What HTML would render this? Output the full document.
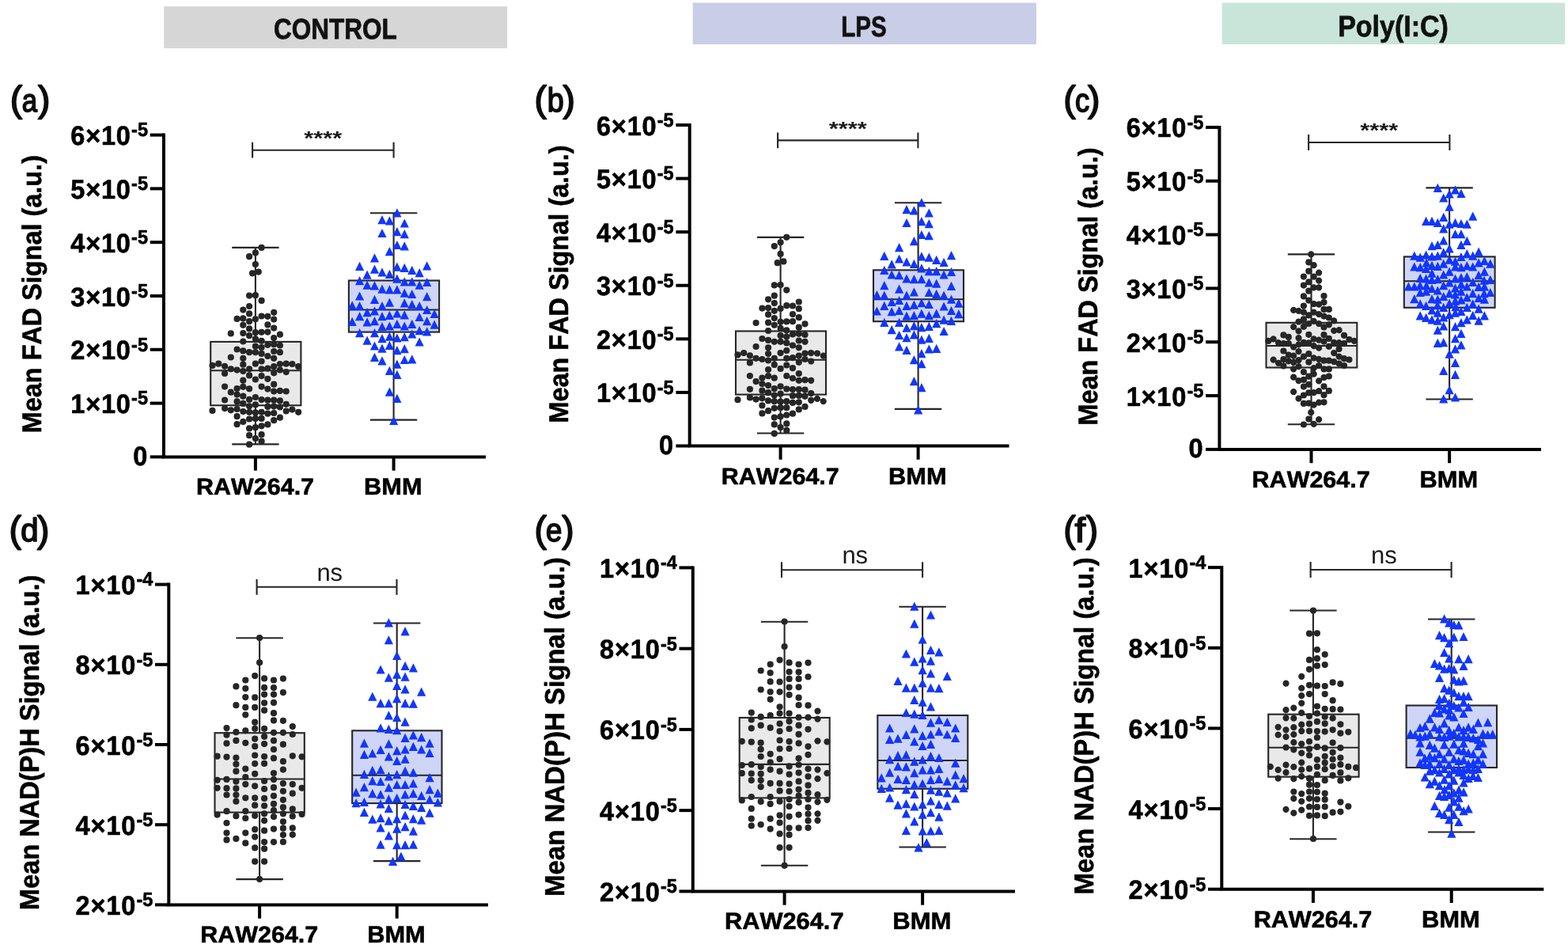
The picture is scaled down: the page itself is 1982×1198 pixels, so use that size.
<!DOCTYPE html>
<html lang="en">
<head>
<meta charset="utf-8">
<title>Mean FAD and NAD(P)H signal: RAW264.7 vs BMM</title>
<style>
html,body{margin:0;padding:0;background:#fff;}
body{width:1982px;height:1198px;overflow:hidden;}
svg{display:block;font-family:"Liberation Sans",Arial,Helvetica,sans-serif;font-kerning:none;font-variant-ligatures:none;text-rendering:geometricPrecision;}
.b{font-weight:bold;fill:#000;stroke:#000;stroke-width:0.6px;stroke-linejoin:round;}
.pl{fill:#0d0d0d;stroke:#0d0d0d;stroke-linejoin:round;}
.bx{fill:#000;stroke:#000;stroke-linejoin:round;}
.hd{font-weight:bold;fill:#111;stroke:#111;stroke-linejoin:round;}
.sg{fill:#1a1a1a;}
.st{font-weight:bold;}
</style>
</head>
<body>
<svg width="1982" height="1198" viewBox="0 0 1982 1198">
<rect width="1982" height="1198" fill="#fff"/>
<rect x="207.2" y="8.1" width="434.0" height="52.9" fill="#d6d6d6"/>
<text class="hd" transform="matrix(0.3151 0 0 0.3636 345.99 48.90)" font-size="100" font-weight="bold" stroke-width="2.07">CONTROL</text>
<rect x="875.7" y="3.5" width="434.2" height="52.5" fill="#c9cde6"/>
<text class="hd" transform="matrix(0.2954 0 0 0.3636 1063.23 46.40)" font-size="100" font-weight="bold" stroke-width="2.14">LPS</text>
<rect x="1544.6" y="3.5" width="433.6" height="52.5" fill="#c9e5d9"/>
<text class="hd" transform="matrix(0.3398 0 0 0.3759 1691.14 46.40)" font-size="100" font-weight="bold" stroke-width="1.96">Poly(I:C)</text>
<g stroke="#262626" stroke-width="2.1" fill="none">
<rect x="266.20" y="431.90" width="114.20" height="80.40" fill="#e9e9e9"/>
<path d="M266.20 468.30H380.40M322.9 431.90V312.90M322.9 512.30V561.40M293.20 312.90H352.60M293.20 561.40H352.60"/>
</g>
<path d="M326.5 312.9a4.1 4.1 0 1 0 8.2 0a4.1 4.1 0 1 0-8.2 0M318.8 319.4a4.1 4.1 0 1 0 8.2 0a4.1 4.1 0 1 0-8.2 0M311.0 324.2a4.1 4.1 0 1 0 8.2 0a4.1 4.1 0 1 0-8.2 0M318.8 334.1a4.1 4.1 0 1 0 8.2 0a4.1 4.1 0 1 0-8.2 0M322.7 343.6a4.1 4.1 0 1 0 8.2 0a4.1 4.1 0 1 0-8.2 0M314.9 345.3a4.1 4.1 0 1 0 8.2 0a4.1 4.1 0 1 0-8.2 0M311.0 373.6a4.1 4.1 0 1 0 8.2 0a4.1 4.1 0 1 0-8.2 0M318.8 373.2a4.1 4.1 0 1 0 8.2 0a4.1 4.1 0 1 0-8.2 0M326.5 379.9a4.1 4.1 0 1 0 8.2 0a4.1 4.1 0 1 0-8.2 0M311.0 387.0a4.1 4.1 0 1 0 8.2 0a4.1 4.1 0 1 0-8.2 0M303.2 391.6a4.1 4.1 0 1 0 8.2 0a4.1 4.1 0 1 0-8.2 0M342.1 394.8a4.1 4.1 0 1 0 8.2 0a4.1 4.1 0 1 0-8.2 0M311.0 396.4a4.1 4.1 0 1 0 8.2 0a4.1 4.1 0 1 0-8.2 0M326.5 399.5a4.1 4.1 0 1 0 8.2 0a4.1 4.1 0 1 0-8.2 0M334.3 399.8a4.1 4.1 0 1 0 8.2 0a4.1 4.1 0 1 0-8.2 0M295.5 402.9a4.1 4.1 0 1 0 8.2 0a4.1 4.1 0 1 0-8.2 0M303.2 402.4a4.1 4.1 0 1 0 8.2 0a4.1 4.1 0 1 0-8.2 0M318.8 403.3a4.1 4.1 0 1 0 8.2 0a4.1 4.1 0 1 0-8.2 0M342.1 403.5a4.1 4.1 0 1 0 8.2 0a4.1 4.1 0 1 0-8.2 0M311.0 406.2a4.1 4.1 0 1 0 8.2 0a4.1 4.1 0 1 0-8.2 0M303.2 410.8a4.1 4.1 0 1 0 8.2 0a4.1 4.1 0 1 0-8.2 0M334.3 410.4a4.1 4.1 0 1 0 8.2 0a4.1 4.1 0 1 0-8.2 0M311.0 415.4a4.1 4.1 0 1 0 8.2 0a4.1 4.1 0 1 0-8.2 0M342.1 414.6a4.1 4.1 0 1 0 8.2 0a4.1 4.1 0 1 0-8.2 0M287.7 421.4a4.1 4.1 0 1 0 8.2 0a4.1 4.1 0 1 0-8.2 0M303.2 421.1a4.1 4.1 0 1 0 8.2 0a4.1 4.1 0 1 0-8.2 0M318.8 420.2a4.1 4.1 0 1 0 8.2 0a4.1 4.1 0 1 0-8.2 0M326.5 419.8a4.1 4.1 0 1 0 8.2 0a4.1 4.1 0 1 0-8.2 0M334.3 419.6a4.1 4.1 0 1 0 8.2 0a4.1 4.1 0 1 0-8.2 0M349.8 422.7a4.1 4.1 0 1 0 8.2 0a4.1 4.1 0 1 0-8.2 0M311.0 424.2a4.1 4.1 0 1 0 8.2 0a4.1 4.1 0 1 0-8.2 0M342.1 427.1a4.1 4.1 0 1 0 8.2 0a4.1 4.1 0 1 0-8.2 0M318.8 428.3a4.1 4.1 0 1 0 8.2 0a4.1 4.1 0 1 0-8.2 0M326.5 430.8a4.1 4.1 0 1 0 8.2 0a4.1 4.1 0 1 0-8.2 0M303.2 431.5a4.1 4.1 0 1 0 8.2 0a4.1 4.1 0 1 0-8.2 0M334.3 435.8a4.1 4.1 0 1 0 8.2 0a4.1 4.1 0 1 0-8.2 0M342.1 435.2a4.1 4.1 0 1 0 8.2 0a4.1 4.1 0 1 0-8.2 0M349.8 436.5a4.1 4.1 0 1 0 8.2 0a4.1 4.1 0 1 0-8.2 0M318.8 437.5a4.1 4.1 0 1 0 8.2 0a4.1 4.1 0 1 0-8.2 0M326.5 439.0a4.1 4.1 0 1 0 8.2 0a4.1 4.1 0 1 0-8.2 0M295.5 441.5a4.1 4.1 0 1 0 8.2 0a4.1 4.1 0 1 0-8.2 0M303.2 443.4a4.1 4.1 0 1 0 8.2 0a4.1 4.1 0 1 0-8.2 0M311.0 445.2a4.1 4.1 0 1 0 8.2 0a4.1 4.1 0 1 0-8.2 0M318.8 445.2a4.1 4.1 0 1 0 8.2 0a4.1 4.1 0 1 0-8.2 0M342.1 444.0a4.1 4.1 0 1 0 8.2 0a4.1 4.1 0 1 0-8.2 0M349.8 445.2a4.1 4.1 0 1 0 8.2 0a4.1 4.1 0 1 0-8.2 0M326.5 446.9a4.1 4.1 0 1 0 8.2 0a4.1 4.1 0 1 0-8.2 0M287.7 451.5a4.1 4.1 0 1 0 8.2 0a4.1 4.1 0 1 0-8.2 0M334.3 450.0a4.1 4.1 0 1 0 8.2 0a4.1 4.1 0 1 0-8.2 0M303.2 452.8a4.1 4.1 0 1 0 8.2 0a4.1 4.1 0 1 0-8.2 0M342.1 452.8a4.1 4.1 0 1 0 8.2 0a4.1 4.1 0 1 0-8.2 0M326.5 456.5a4.1 4.1 0 1 0 8.2 0a4.1 4.1 0 1 0-8.2 0M318.8 459.7a4.1 4.1 0 1 0 8.2 0a4.1 4.1 0 1 0-8.2 0M303.2 460.7a4.1 4.1 0 1 0 8.2 0a4.1 4.1 0 1 0-8.2 0M264.4 461.9a4.1 4.1 0 1 0 8.2 0a4.1 4.1 0 1 0-8.2 0M272.2 459.7a4.1 4.1 0 1 0 8.2 0a4.1 4.1 0 1 0-8.2 0M280.0 462.8a4.1 4.1 0 1 0 8.2 0a4.1 4.1 0 1 0-8.2 0M287.7 466.3a4.1 4.1 0 1 0 8.2 0a4.1 4.1 0 1 0-8.2 0M295.5 467.6a4.1 4.1 0 1 0 8.2 0a4.1 4.1 0 1 0-8.2 0M303.2 469.1a4.1 4.1 0 1 0 8.2 0a4.1 4.1 0 1 0-8.2 0M311.0 466.3a4.1 4.1 0 1 0 8.2 0a4.1 4.1 0 1 0-8.2 0M326.5 466.3a4.1 4.1 0 1 0 8.2 0a4.1 4.1 0 1 0-8.2 0M334.3 465.7a4.1 4.1 0 1 0 8.2 0a4.1 4.1 0 1 0-8.2 0M342.1 463.2a4.1 4.1 0 1 0 8.2 0a4.1 4.1 0 1 0-8.2 0M349.8 460.0a4.1 4.1 0 1 0 8.2 0a4.1 4.1 0 1 0-8.2 0M357.6 459.7a4.1 4.1 0 1 0 8.2 0a4.1 4.1 0 1 0-8.2 0M365.3 460.0a4.1 4.1 0 1 0 8.2 0a4.1 4.1 0 1 0-8.2 0M373.1 463.2a4.1 4.1 0 1 0 8.2 0a4.1 4.1 0 1 0-8.2 0M280.0 471.9a4.1 4.1 0 1 0 8.2 0a4.1 4.1 0 1 0-8.2 0M342.1 471.3a4.1 4.1 0 1 0 8.2 0a4.1 4.1 0 1 0-8.2 0M349.8 467.6a4.1 4.1 0 1 0 8.2 0a4.1 4.1 0 1 0-8.2 0M357.6 470.1a4.1 4.1 0 1 0 8.2 0a4.1 4.1 0 1 0-8.2 0M311.0 474.4a4.1 4.1 0 1 0 8.2 0a4.1 4.1 0 1 0-8.2 0M326.5 475.1a4.1 4.1 0 1 0 8.2 0a4.1 4.1 0 1 0-8.2 0M318.8 479.5a4.1 4.1 0 1 0 8.2 0a4.1 4.1 0 1 0-8.2 0M334.3 478.8a4.1 4.1 0 1 0 8.2 0a4.1 4.1 0 1 0-8.2 0M303.2 480.7a4.1 4.1 0 1 0 8.2 0a4.1 4.1 0 1 0-8.2 0M342.1 485.7a4.1 4.1 0 1 0 8.2 0a4.1 4.1 0 1 0-8.2 0M280.0 488.6a4.1 4.1 0 1 0 8.2 0a4.1 4.1 0 1 0-8.2 0M303.2 488.8a4.1 4.1 0 1 0 8.2 0a4.1 4.1 0 1 0-8.2 0M295.5 491.1a4.1 4.1 0 1 0 8.2 0a4.1 4.1 0 1 0-8.2 0M311.0 491.3a4.1 4.1 0 1 0 8.2 0a4.1 4.1 0 1 0-8.2 0M326.5 488.6a4.1 4.1 0 1 0 8.2 0a4.1 4.1 0 1 0-8.2 0M334.3 491.6a4.1 4.1 0 1 0 8.2 0a4.1 4.1 0 1 0-8.2 0M342.1 494.5a4.1 4.1 0 1 0 8.2 0a4.1 4.1 0 1 0-8.2 0M349.8 493.9a4.1 4.1 0 1 0 8.2 0a4.1 4.1 0 1 0-8.2 0M357.6 494.5a4.1 4.1 0 1 0 8.2 0a4.1 4.1 0 1 0-8.2 0M287.7 495.7a4.1 4.1 0 1 0 8.2 0a4.1 4.1 0 1 0-8.2 0M295.5 498.6a4.1 4.1 0 1 0 8.2 0a4.1 4.1 0 1 0-8.2 0M303.2 500.7a4.1 4.1 0 1 0 8.2 0a4.1 4.1 0 1 0-8.2 0M318.8 502.0a4.1 4.1 0 1 0 8.2 0a4.1 4.1 0 1 0-8.2 0M311.0 504.9a4.1 4.1 0 1 0 8.2 0a4.1 4.1 0 1 0-8.2 0M326.5 505.1a4.1 4.1 0 1 0 8.2 0a4.1 4.1 0 1 0-8.2 0M334.3 505.7a4.1 4.1 0 1 0 8.2 0a4.1 4.1 0 1 0-8.2 0M342.1 505.7a4.1 4.1 0 1 0 8.2 0a4.1 4.1 0 1 0-8.2 0M349.8 506.4a4.1 4.1 0 1 0 8.2 0a4.1 4.1 0 1 0-8.2 0M280.0 505.5a4.1 4.1 0 1 0 8.2 0a4.1 4.1 0 1 0-8.2 0M295.5 507.4a4.1 4.1 0 1 0 8.2 0a4.1 4.1 0 1 0-8.2 0M303.2 509.9a4.1 4.1 0 1 0 8.2 0a4.1 4.1 0 1 0-8.2 0M318.8 511.4a4.1 4.1 0 1 0 8.2 0a4.1 4.1 0 1 0-8.2 0M357.6 510.8a4.1 4.1 0 1 0 8.2 0a4.1 4.1 0 1 0-8.2 0M311.0 513.3a4.1 4.1 0 1 0 8.2 0a4.1 4.1 0 1 0-8.2 0M334.3 513.9a4.1 4.1 0 1 0 8.2 0a4.1 4.1 0 1 0-8.2 0M342.1 513.6a4.1 4.1 0 1 0 8.2 0a4.1 4.1 0 1 0-8.2 0M349.8 514.5a4.1 4.1 0 1 0 8.2 0a4.1 4.1 0 1 0-8.2 0M264.4 518.9a4.1 4.1 0 1 0 8.2 0a4.1 4.1 0 1 0-8.2 0M280.0 516.1a4.1 4.1 0 1 0 8.2 0a4.1 4.1 0 1 0-8.2 0M287.7 518.3a4.1 4.1 0 1 0 8.2 0a4.1 4.1 0 1 0-8.2 0M295.5 517.0a4.1 4.1 0 1 0 8.2 0a4.1 4.1 0 1 0-8.2 0M303.2 520.1a4.1 4.1 0 1 0 8.2 0a4.1 4.1 0 1 0-8.2 0M311.0 520.8a4.1 4.1 0 1 0 8.2 0a4.1 4.1 0 1 0-8.2 0M318.8 521.4a4.1 4.1 0 1 0 8.2 0a4.1 4.1 0 1 0-8.2 0M326.5 520.8a4.1 4.1 0 1 0 8.2 0a4.1 4.1 0 1 0-8.2 0M334.3 522.7a4.1 4.1 0 1 0 8.2 0a4.1 4.1 0 1 0-8.2 0M342.1 522.0a4.1 4.1 0 1 0 8.2 0a4.1 4.1 0 1 0-8.2 0M357.6 519.5a4.1 4.1 0 1 0 8.2 0a4.1 4.1 0 1 0-8.2 0M365.3 517.6a4.1 4.1 0 1 0 8.2 0a4.1 4.1 0 1 0-8.2 0M373.1 520.8a4.1 4.1 0 1 0 8.2 0a4.1 4.1 0 1 0-8.2 0M295.5 526.2a4.1 4.1 0 1 0 8.2 0a4.1 4.1 0 1 0-8.2 0M311.0 529.5a4.1 4.1 0 1 0 8.2 0a4.1 4.1 0 1 0-8.2 0M318.8 528.9a4.1 4.1 0 1 0 8.2 0a4.1 4.1 0 1 0-8.2 0M326.5 528.9a4.1 4.1 0 1 0 8.2 0a4.1 4.1 0 1 0-8.2 0M349.8 527.7a4.1 4.1 0 1 0 8.2 0a4.1 4.1 0 1 0-8.2 0M342.1 531.2a4.1 4.1 0 1 0 8.2 0a4.1 4.1 0 1 0-8.2 0M303.2 532.9a4.1 4.1 0 1 0 8.2 0a4.1 4.1 0 1 0-8.2 0M295.5 536.2a4.1 4.1 0 1 0 8.2 0a4.1 4.1 0 1 0-8.2 0M334.3 536.4a4.1 4.1 0 1 0 8.2 0a4.1 4.1 0 1 0-8.2 0M326.5 538.3a4.1 4.1 0 1 0 8.2 0a4.1 4.1 0 1 0-8.2 0M318.8 540.2a4.1 4.1 0 1 0 8.2 0a4.1 4.1 0 1 0-8.2 0M311.0 541.4a4.1 4.1 0 1 0 8.2 0a4.1 4.1 0 1 0-8.2 0M311.0 550.2a4.1 4.1 0 1 0 8.2 0a4.1 4.1 0 1 0-8.2 0M326.5 549.2a4.1 4.1 0 1 0 8.2 0a4.1 4.1 0 1 0-8.2 0M318.8 554.0a4.1 4.1 0 1 0 8.2 0a4.1 4.1 0 1 0-8.2 0M326.5 557.7a4.1 4.1 0 1 0 8.2 0a4.1 4.1 0 1 0-8.2 0M311.0 561.7a4.1 4.1 0 1 0 8.2 0a4.1 4.1 0 1 0-8.2 0" fill="#262626"/>
<g stroke="#262626" stroke-width="2.1" fill="none">
<rect x="440.90" y="354.50" width="114.20" height="65.10" fill="#cfd5f7"/>
<path d="M440.90 391.50H555.10M497.6 354.50V269.20M497.6 419.60V530.60M467.90 269.20H527.30M467.90 530.60H527.30"/>
</g>
<path d="M501.9 263.2l5.6 11.2h-11.2zM483.0 272.0l5.6 11.2h-11.2zM492.4 273.2l5.6 11.2h-11.2zM511.3 276.4l5.6 11.2h-11.2zM483.0 288.9l5.6 11.2h-11.2zM501.9 287.0l5.6 11.2h-11.2zM511.3 290.1l5.6 11.2h-11.2zM501.9 303.9l5.6 11.2h-11.2zM511.3 305.2l5.6 11.2h-11.2zM492.4 312.1l5.6 11.2h-11.2zM473.5 320.2l5.6 11.2h-11.2zM454.6 330.8l5.6 11.2h-11.2zM473.5 334.6l5.6 11.2h-11.2zM501.9 331.5l5.6 11.2h-11.2zM511.3 332.7l5.6 11.2h-11.2zM520.8 335.8l5.6 11.2h-11.2zM539.7 330.2l5.6 11.2h-11.2zM530.2 339.0l5.6 11.2h-11.2zM483.0 338.3l5.6 11.2h-11.2zM492.4 340.8l5.6 11.2h-11.2zM464.1 341.5l5.6 11.2h-11.2zM501.9 346.5l5.6 11.2h-11.2zM454.6 349.0l5.6 11.2h-11.2zM511.3 350.2l5.6 11.2h-11.2zM520.8 350.2l5.6 11.2h-11.2zM539.7 350.9l5.6 11.2h-11.2zM530.2 354.6l5.6 11.2h-11.2zM464.1 354.6l5.6 11.2h-11.2zM473.5 355.2l5.6 11.2h-11.2zM483.0 359.6l5.6 11.2h-11.2zM492.4 360.3l5.6 11.2h-11.2zM501.9 360.3l5.6 11.2h-11.2zM511.3 364.6l5.6 11.2h-11.2zM520.8 365.9l5.6 11.2h-11.2zM454.6 368.4l5.6 11.2h-11.2zM539.7 369.0l5.6 11.2h-11.2zM473.5 372.8l5.6 11.2h-11.2zM492.4 376.5l5.6 11.2h-11.2zM511.3 377.2l5.6 11.2h-11.2zM520.8 379.0l5.6 11.2h-11.2zM445.2 380.3l5.6 11.2h-11.2zM454.6 380.9l5.6 11.2h-11.2zM483.0 380.9l5.6 11.2h-11.2zM530.2 380.9l5.6 11.2h-11.2zM539.7 385.9l5.6 11.2h-11.2zM473.5 387.2l5.6 11.2h-11.2zM464.1 389.1l5.6 11.2h-11.2zM501.9 390.3l5.6 11.2h-11.2zM549.1 390.9l5.6 11.2h-11.2zM511.3 392.2l5.6 11.2h-11.2zM454.6 394.1l5.6 11.2h-11.2zM483.0 394.1l5.6 11.2h-11.2zM492.4 392.8l5.6 11.2h-11.2zM530.2 394.7l5.6 11.2h-11.2zM445.2 400.7l5.6 11.2h-11.2zM464.1 401.3l5.6 11.2h-11.2zM473.5 400.1l5.6 11.2h-11.2zM539.7 400.1l5.6 11.2h-11.2zM520.8 403.8l5.6 11.2h-11.2zM549.1 404.5l5.6 11.2h-11.2zM501.9 403.8l5.6 11.2h-11.2zM483.0 407.0l5.6 11.2h-11.2zM492.4 406.4l5.6 11.2h-11.2zM511.3 406.4l5.6 11.2h-11.2zM530.2 412.0l5.6 11.2h-11.2zM539.7 413.2l5.6 11.2h-11.2zM454.6 415.1l5.6 11.2h-11.2zM473.5 415.1l5.6 11.2h-11.2zM520.8 416.4l5.6 11.2h-11.2zM492.4 419.5l5.6 11.2h-11.2zM511.3 420.1l5.6 11.2h-11.2zM483.0 422.0l5.6 11.2h-11.2zM501.9 421.4l5.6 11.2h-11.2zM464.1 424.5l5.6 11.2h-11.2zM530.2 426.4l5.6 11.2h-11.2zM473.5 431.4l5.6 11.2h-11.2zM492.4 430.8l5.6 11.2h-11.2zM483.0 434.5l5.6 11.2h-11.2zM511.3 435.1l5.6 11.2h-11.2zM501.9 437.0l5.6 11.2h-11.2zM473.5 445.8l5.6 11.2h-11.2zM483.0 450.2l5.6 11.2h-11.2zM511.3 448.9l5.6 11.2h-11.2zM520.8 448.3l5.6 11.2h-11.2zM501.9 454.6l5.6 11.2h-11.2zM492.4 462.7l5.6 11.2h-11.2zM501.9 467.7l5.6 11.2h-11.2zM492.4 489.6l5.6 11.2h-11.2zM501.9 497.8l5.6 11.2h-11.2zM497.7 525.9l5.6 11.2h-11.2z" fill="#1236fb"/>
<path d="M207.0 168.60V579.40M205.00 577.4H614.0" fill="none" stroke="#000" stroke-width="4.0"/>
<line x1="189.70" y1="577.40" x2="207.0" y2="577.40" stroke="#000" stroke-width="4.0"/>
<text class="b" transform="translate(186.30 587.90) scale(1 1.045)" font-size="32.5" text-anchor="end">0</text>
<line x1="189.70" y1="509.60" x2="207.0" y2="509.60" stroke="#000" stroke-width="4.0"/>
<text class="b" transform="translate(187.00 522.10) scale(1 1.045)" font-size="32.5" text-anchor="end"><tspan letter-spacing="0.8">1×10</tspan><tspan font-size="23.5" dx="0.4" dy="-10.2">-5</tspan></text>
<line x1="189.70" y1="441.80" x2="207.0" y2="441.80" stroke="#000" stroke-width="4.0"/>
<text class="b" transform="translate(187.00 454.30) scale(1 1.045)" font-size="32.5" text-anchor="end"><tspan letter-spacing="0.8">2×10</tspan><tspan font-size="23.5" dx="0.4" dy="-10.2">-5</tspan></text>
<line x1="189.70" y1="374.00" x2="207.0" y2="374.00" stroke="#000" stroke-width="4.0"/>
<text class="b" transform="translate(187.00 386.50) scale(1 1.045)" font-size="32.5" text-anchor="end"><tspan letter-spacing="0.8">3×10</tspan><tspan font-size="23.5" dx="0.4" dy="-10.2">-5</tspan></text>
<line x1="189.70" y1="306.20" x2="207.0" y2="306.20" stroke="#000" stroke-width="4.0"/>
<text class="b" transform="translate(187.00 318.70) scale(1 1.045)" font-size="32.5" text-anchor="end"><tspan letter-spacing="0.8">4×10</tspan><tspan font-size="23.5" dx="0.4" dy="-10.2">-5</tspan></text>
<line x1="189.70" y1="238.40" x2="207.0" y2="238.40" stroke="#000" stroke-width="4.0"/>
<text class="b" transform="translate(187.00 250.90) scale(1 1.045)" font-size="32.5" text-anchor="end"><tspan letter-spacing="0.8">5×10</tspan><tspan font-size="23.5" dx="0.4" dy="-10.2">-5</tspan></text>
<line x1="189.70" y1="170.60" x2="207.0" y2="170.60" stroke="#000" stroke-width="4.0"/>
<text class="b" transform="translate(187.00 183.10) scale(1 1.045)" font-size="32.5" text-anchor="end"><tspan letter-spacing="0.8">6×10</tspan><tspan font-size="23.5" dx="0.4" dy="-10.2">-5</tspan></text>
<line x1="322.9" y1="577.4" x2="322.9" y2="594.70" stroke="#000" stroke-width="4.0"/>
<text class="bx" transform="matrix(0.3047 0 0 0.2943 248.02 625.40)" font-size="100" font-weight="bold" stroke-width="2.00">RAW264.7</text>
<line x1="497.6" y1="577.4" x2="497.6" y2="594.70" stroke="#000" stroke-width="4.0"/>
<text class="bx" transform="matrix(0.3078 0 0 0.2986 460.10 625.40)" font-size="100" font-weight="bold" stroke-width="1.98">BMM</text>
<text class="bx" transform="translate(52.00 547.21) rotate(-90) scale(0.3241 0.3420)" font-size="100" font-weight="bold" stroke-width="1.80">Mean FAD Signal (a.u.)</text>
<text class="pl" stroke-width="1.7"><tspan x="12.67" y="141.49" font-size="45.99" textLength="15.46" lengthAdjust="spacingAndGlyphs">(</tspan><tspan x="27.76" y="141.34" font-size="40.73" textLength="19.33" lengthAdjust="spacingAndGlyphs">a</tspan><tspan x="47.92" y="141.49" font-size="45.99" textLength="15.46" lengthAdjust="spacingAndGlyphs">)</tspan></text>
<path d="M319.1 189.7H497.6M319.1 179.79999999999998v19.8M497.6 179.79999999999998v19.8" stroke="#262626" stroke-width="2.1" fill="none"/>
<text class="sg" transform="matrix(0.3084 0 0 0.2486 384.30 183.06)" font-size="100" font-weight="bold">****</text>
<g stroke="#262626" stroke-width="2.1" fill="none">
<rect x="930.00" y="418.46" width="114.00" height="80.14" fill="#e9e9e9"/>
<path d="M930.00 454.75H1044.00M986.6 418.46V299.85M986.6 498.61V547.55M956.90 299.85H1016.30M956.90 547.55H1016.30"/>
</g>
<path d="M990.2 299.8a4.1 4.1 0 1 0 8.2 0a4.1 4.1 0 1 0-8.2 0M982.5 306.3a4.1 4.1 0 1 0 8.2 0a4.1 4.1 0 1 0-8.2 0M974.7 311.1a4.1 4.1 0 1 0 8.2 0a4.1 4.1 0 1 0-8.2 0M982.5 320.9a4.1 4.1 0 1 0 8.2 0a4.1 4.1 0 1 0-8.2 0M986.3 330.4a4.1 4.1 0 1 0 8.2 0a4.1 4.1 0 1 0-8.2 0M978.6 332.2a4.1 4.1 0 1 0 8.2 0a4.1 4.1 0 1 0-8.2 0M974.7 360.4a4.1 4.1 0 1 0 8.2 0a4.1 4.1 0 1 0-8.2 0M982.5 360.0a4.1 4.1 0 1 0 8.2 0a4.1 4.1 0 1 0-8.2 0M990.2 366.6a4.1 4.1 0 1 0 8.2 0a4.1 4.1 0 1 0-8.2 0M974.7 373.7a4.1 4.1 0 1 0 8.2 0a4.1 4.1 0 1 0-8.2 0M967.0 378.3a4.1 4.1 0 1 0 8.2 0a4.1 4.1 0 1 0-8.2 0M1005.7 381.5a4.1 4.1 0 1 0 8.2 0a4.1 4.1 0 1 0-8.2 0M974.7 383.1a4.1 4.1 0 1 0 8.2 0a4.1 4.1 0 1 0-8.2 0M990.2 386.2a4.1 4.1 0 1 0 8.2 0a4.1 4.1 0 1 0-8.2 0M997.9 386.5a4.1 4.1 0 1 0 8.2 0a4.1 4.1 0 1 0-8.2 0M959.3 389.6a4.1 4.1 0 1 0 8.2 0a4.1 4.1 0 1 0-8.2 0M967.0 389.1a4.1 4.1 0 1 0 8.2 0a4.1 4.1 0 1 0-8.2 0M982.5 389.9a4.1 4.1 0 1 0 8.2 0a4.1 4.1 0 1 0-8.2 0M1005.7 390.2a4.1 4.1 0 1 0 8.2 0a4.1 4.1 0 1 0-8.2 0M974.7 392.8a4.1 4.1 0 1 0 8.2 0a4.1 4.1 0 1 0-8.2 0M967.0 397.4a4.1 4.1 0 1 0 8.2 0a4.1 4.1 0 1 0-8.2 0M997.9 397.1a4.1 4.1 0 1 0 8.2 0a4.1 4.1 0 1 0-8.2 0M974.7 402.1a4.1 4.1 0 1 0 8.2 0a4.1 4.1 0 1 0-8.2 0M1005.7 401.2a4.1 4.1 0 1 0 8.2 0a4.1 4.1 0 1 0-8.2 0M951.5 408.0a4.1 4.1 0 1 0 8.2 0a4.1 4.1 0 1 0-8.2 0M967.0 407.7a4.1 4.1 0 1 0 8.2 0a4.1 4.1 0 1 0-8.2 0M982.5 406.8a4.1 4.1 0 1 0 8.2 0a4.1 4.1 0 1 0-8.2 0M990.2 406.4a4.1 4.1 0 1 0 8.2 0a4.1 4.1 0 1 0-8.2 0M997.9 406.2a4.1 4.1 0 1 0 8.2 0a4.1 4.1 0 1 0-8.2 0M1013.4 409.3a4.1 4.1 0 1 0 8.2 0a4.1 4.1 0 1 0-8.2 0M974.7 410.8a4.1 4.1 0 1 0 8.2 0a4.1 4.1 0 1 0-8.2 0M1005.7 413.7a4.1 4.1 0 1 0 8.2 0a4.1 4.1 0 1 0-8.2 0M982.5 414.9a4.1 4.1 0 1 0 8.2 0a4.1 4.1 0 1 0-8.2 0M990.2 417.4a4.1 4.1 0 1 0 8.2 0a4.1 4.1 0 1 0-8.2 0M967.0 418.0a4.1 4.1 0 1 0 8.2 0a4.1 4.1 0 1 0-8.2 0M997.9 422.4a4.1 4.1 0 1 0 8.2 0a4.1 4.1 0 1 0-8.2 0M1005.7 421.8a4.1 4.1 0 1 0 8.2 0a4.1 4.1 0 1 0-8.2 0M1013.4 423.0a4.1 4.1 0 1 0 8.2 0a4.1 4.1 0 1 0-8.2 0M982.5 424.0a4.1 4.1 0 1 0 8.2 0a4.1 4.1 0 1 0-8.2 0M990.2 425.5a4.1 4.1 0 1 0 8.2 0a4.1 4.1 0 1 0-8.2 0M959.3 428.0a4.1 4.1 0 1 0 8.2 0a4.1 4.1 0 1 0-8.2 0M967.0 429.9a4.1 4.1 0 1 0 8.2 0a4.1 4.1 0 1 0-8.2 0M974.7 431.8a4.1 4.1 0 1 0 8.2 0a4.1 4.1 0 1 0-8.2 0M982.5 431.8a4.1 4.1 0 1 0 8.2 0a4.1 4.1 0 1 0-8.2 0M1005.7 430.5a4.1 4.1 0 1 0 8.2 0a4.1 4.1 0 1 0-8.2 0M1013.4 431.8a4.1 4.1 0 1 0 8.2 0a4.1 4.1 0 1 0-8.2 0M990.2 433.4a4.1 4.1 0 1 0 8.2 0a4.1 4.1 0 1 0-8.2 0M951.5 438.0a4.1 4.1 0 1 0 8.2 0a4.1 4.1 0 1 0-8.2 0M997.9 436.5a4.1 4.1 0 1 0 8.2 0a4.1 4.1 0 1 0-8.2 0M967.0 439.3a4.1 4.1 0 1 0 8.2 0a4.1 4.1 0 1 0-8.2 0M1005.7 439.3a4.1 4.1 0 1 0 8.2 0a4.1 4.1 0 1 0-8.2 0M990.2 443.0a4.1 4.1 0 1 0 8.2 0a4.1 4.1 0 1 0-8.2 0M982.5 446.1a4.1 4.1 0 1 0 8.2 0a4.1 4.1 0 1 0-8.2 0M967.0 447.1a4.1 4.1 0 1 0 8.2 0a4.1 4.1 0 1 0-8.2 0M928.4 448.4a4.1 4.1 0 1 0 8.2 0a4.1 4.1 0 1 0-8.2 0M936.1 446.1a4.1 4.1 0 1 0 8.2 0a4.1 4.1 0 1 0-8.2 0M943.8 449.3a4.1 4.1 0 1 0 8.2 0a4.1 4.1 0 1 0-8.2 0M951.5 452.8a4.1 4.1 0 1 0 8.2 0a4.1 4.1 0 1 0-8.2 0M959.3 454.0a4.1 4.1 0 1 0 8.2 0a4.1 4.1 0 1 0-8.2 0M967.0 455.5a4.1 4.1 0 1 0 8.2 0a4.1 4.1 0 1 0-8.2 0M974.7 452.8a4.1 4.1 0 1 0 8.2 0a4.1 4.1 0 1 0-8.2 0M990.2 452.8a4.1 4.1 0 1 0 8.2 0a4.1 4.1 0 1 0-8.2 0M997.9 452.1a4.1 4.1 0 1 0 8.2 0a4.1 4.1 0 1 0-8.2 0M1005.7 449.6a4.1 4.1 0 1 0 8.2 0a4.1 4.1 0 1 0-8.2 0M1013.4 446.5a4.1 4.1 0 1 0 8.2 0a4.1 4.1 0 1 0-8.2 0M1021.1 446.1a4.1 4.1 0 1 0 8.2 0a4.1 4.1 0 1 0-8.2 0M1028.9 446.5a4.1 4.1 0 1 0 8.2 0a4.1 4.1 0 1 0-8.2 0M1036.6 449.6a4.1 4.1 0 1 0 8.2 0a4.1 4.1 0 1 0-8.2 0M943.8 458.4a4.1 4.1 0 1 0 8.2 0a4.1 4.1 0 1 0-8.2 0M1005.7 457.8a4.1 4.1 0 1 0 8.2 0a4.1 4.1 0 1 0-8.2 0M1013.4 454.0a4.1 4.1 0 1 0 8.2 0a4.1 4.1 0 1 0-8.2 0M1021.1 456.5a4.1 4.1 0 1 0 8.2 0a4.1 4.1 0 1 0-8.2 0M974.7 460.9a4.1 4.1 0 1 0 8.2 0a4.1 4.1 0 1 0-8.2 0M990.2 461.5a4.1 4.1 0 1 0 8.2 0a4.1 4.1 0 1 0-8.2 0M982.5 465.9a4.1 4.1 0 1 0 8.2 0a4.1 4.1 0 1 0-8.2 0M997.9 465.2a4.1 4.1 0 1 0 8.2 0a4.1 4.1 0 1 0-8.2 0M967.0 467.1a4.1 4.1 0 1 0 8.2 0a4.1 4.1 0 1 0-8.2 0M1005.7 472.1a4.1 4.1 0 1 0 8.2 0a4.1 4.1 0 1 0-8.2 0M943.8 475.0a4.1 4.1 0 1 0 8.2 0a4.1 4.1 0 1 0-8.2 0M967.0 475.2a4.1 4.1 0 1 0 8.2 0a4.1 4.1 0 1 0-8.2 0M959.3 477.5a4.1 4.1 0 1 0 8.2 0a4.1 4.1 0 1 0-8.2 0M974.7 477.7a4.1 4.1 0 1 0 8.2 0a4.1 4.1 0 1 0-8.2 0M990.2 475.0a4.1 4.1 0 1 0 8.2 0a4.1 4.1 0 1 0-8.2 0M997.9 478.0a4.1 4.1 0 1 0 8.2 0a4.1 4.1 0 1 0-8.2 0M1005.7 480.8a4.1 4.1 0 1 0 8.2 0a4.1 4.1 0 1 0-8.2 0M1013.4 480.2a4.1 4.1 0 1 0 8.2 0a4.1 4.1 0 1 0-8.2 0M1021.1 480.8a4.1 4.1 0 1 0 8.2 0a4.1 4.1 0 1 0-8.2 0M951.5 482.1a4.1 4.1 0 1 0 8.2 0a4.1 4.1 0 1 0-8.2 0M959.3 485.0a4.1 4.1 0 1 0 8.2 0a4.1 4.1 0 1 0-8.2 0M967.0 487.1a4.1 4.1 0 1 0 8.2 0a4.1 4.1 0 1 0-8.2 0M982.5 488.3a4.1 4.1 0 1 0 8.2 0a4.1 4.1 0 1 0-8.2 0M974.7 491.2a4.1 4.1 0 1 0 8.2 0a4.1 4.1 0 1 0-8.2 0M990.2 491.5a4.1 4.1 0 1 0 8.2 0a4.1 4.1 0 1 0-8.2 0M997.9 492.1a4.1 4.1 0 1 0 8.2 0a4.1 4.1 0 1 0-8.2 0M1005.7 492.1a4.1 4.1 0 1 0 8.2 0a4.1 4.1 0 1 0-8.2 0M1013.4 492.7a4.1 4.1 0 1 0 8.2 0a4.1 4.1 0 1 0-8.2 0M943.8 491.8a4.1 4.1 0 1 0 8.2 0a4.1 4.1 0 1 0-8.2 0M959.3 493.7a4.1 4.1 0 1 0 8.2 0a4.1 4.1 0 1 0-8.2 0M967.0 496.2a4.1 4.1 0 1 0 8.2 0a4.1 4.1 0 1 0-8.2 0M982.5 497.7a4.1 4.1 0 1 0 8.2 0a4.1 4.1 0 1 0-8.2 0M1021.1 497.1a4.1 4.1 0 1 0 8.2 0a4.1 4.1 0 1 0-8.2 0M974.7 499.6a4.1 4.1 0 1 0 8.2 0a4.1 4.1 0 1 0-8.2 0M997.9 500.2a4.1 4.1 0 1 0 8.2 0a4.1 4.1 0 1 0-8.2 0M1005.7 499.9a4.1 4.1 0 1 0 8.2 0a4.1 4.1 0 1 0-8.2 0M1013.4 500.8a4.1 4.1 0 1 0 8.2 0a4.1 4.1 0 1 0-8.2 0M928.4 505.2a4.1 4.1 0 1 0 8.2 0a4.1 4.1 0 1 0-8.2 0M943.8 502.4a4.1 4.1 0 1 0 8.2 0a4.1 4.1 0 1 0-8.2 0M951.5 504.6a4.1 4.1 0 1 0 8.2 0a4.1 4.1 0 1 0-8.2 0M959.3 503.3a4.1 4.1 0 1 0 8.2 0a4.1 4.1 0 1 0-8.2 0M967.0 506.4a4.1 4.1 0 1 0 8.2 0a4.1 4.1 0 1 0-8.2 0M974.7 507.1a4.1 4.1 0 1 0 8.2 0a4.1 4.1 0 1 0-8.2 0M982.5 507.7a4.1 4.1 0 1 0 8.2 0a4.1 4.1 0 1 0-8.2 0M990.2 507.1a4.1 4.1 0 1 0 8.2 0a4.1 4.1 0 1 0-8.2 0M997.9 508.9a4.1 4.1 0 1 0 8.2 0a4.1 4.1 0 1 0-8.2 0M1005.7 508.3a4.1 4.1 0 1 0 8.2 0a4.1 4.1 0 1 0-8.2 0M1021.1 505.8a4.1 4.1 0 1 0 8.2 0a4.1 4.1 0 1 0-8.2 0M1028.9 503.9a4.1 4.1 0 1 0 8.2 0a4.1 4.1 0 1 0-8.2 0M1036.6 507.1a4.1 4.1 0 1 0 8.2 0a4.1 4.1 0 1 0-8.2 0M959.3 512.4a4.1 4.1 0 1 0 8.2 0a4.1 4.1 0 1 0-8.2 0M974.7 515.8a4.1 4.1 0 1 0 8.2 0a4.1 4.1 0 1 0-8.2 0M982.5 515.2a4.1 4.1 0 1 0 8.2 0a4.1 4.1 0 1 0-8.2 0M990.2 515.2a4.1 4.1 0 1 0 8.2 0a4.1 4.1 0 1 0-8.2 0M1013.4 513.9a4.1 4.1 0 1 0 8.2 0a4.1 4.1 0 1 0-8.2 0M1005.7 517.4a4.1 4.1 0 1 0 8.2 0a4.1 4.1 0 1 0-8.2 0M967.0 519.2a4.1 4.1 0 1 0 8.2 0a4.1 4.1 0 1 0-8.2 0M959.3 522.4a4.1 4.1 0 1 0 8.2 0a4.1 4.1 0 1 0-8.2 0M997.9 522.7a4.1 4.1 0 1 0 8.2 0a4.1 4.1 0 1 0-8.2 0M990.2 524.5a4.1 4.1 0 1 0 8.2 0a4.1 4.1 0 1 0-8.2 0M982.5 526.4a4.1 4.1 0 1 0 8.2 0a4.1 4.1 0 1 0-8.2 0M974.7 527.6a4.1 4.1 0 1 0 8.2 0a4.1 4.1 0 1 0-8.2 0M974.7 536.4a4.1 4.1 0 1 0 8.2 0a4.1 4.1 0 1 0-8.2 0M990.2 535.4a4.1 4.1 0 1 0 8.2 0a4.1 4.1 0 1 0-8.2 0M982.5 540.1a4.1 4.1 0 1 0 8.2 0a4.1 4.1 0 1 0-8.2 0M990.2 543.9a4.1 4.1 0 1 0 8.2 0a4.1 4.1 0 1 0-8.2 0M974.7 547.9a4.1 4.1 0 1 0 8.2 0a4.1 4.1 0 1 0-8.2 0" fill="#262626"/>
<g stroke="#262626" stroke-width="2.1" fill="none">
<rect x="1104.00" y="341.31" width="114.00" height="64.89" fill="#cfd5f7"/>
<path d="M1104.00 378.19H1218.00M1160.6 341.31V256.28M1160.6 406.20V516.85M1130.90 256.28H1190.30M1130.90 516.85H1190.30"/>
</g>
<path d="M1164.9 250.3l5.6 11.2h-11.2zM1146.0 259.0l5.6 11.2h-11.2zM1155.4 260.3l5.6 11.2h-11.2zM1174.3 263.4l5.6 11.2h-11.2zM1146.0 275.9l5.6 11.2h-11.2zM1164.9 274.0l5.6 11.2h-11.2zM1174.3 277.1l5.6 11.2h-11.2zM1164.9 290.9l5.6 11.2h-11.2zM1174.3 292.1l5.6 11.2h-11.2zM1155.4 299.0l5.6 11.2h-11.2zM1136.6 307.1l5.6 11.2h-11.2zM1117.8 317.7l5.6 11.2h-11.2zM1136.6 321.4l5.6 11.2h-11.2zM1164.9 318.3l5.6 11.2h-11.2zM1174.3 319.6l5.6 11.2h-11.2zM1183.7 322.7l5.6 11.2h-11.2zM1202.5 317.1l5.6 11.2h-11.2zM1193.1 325.8l5.6 11.2h-11.2zM1146.0 325.2l5.6 11.2h-11.2zM1155.4 327.7l5.6 11.2h-11.2zM1127.2 328.3l5.6 11.2h-11.2zM1164.9 333.3l5.6 11.2h-11.2zM1117.8 335.8l5.6 11.2h-11.2zM1174.3 337.0l5.6 11.2h-11.2zM1183.7 337.0l5.6 11.2h-11.2zM1202.5 337.7l5.6 11.2h-11.2zM1193.1 341.4l5.6 11.2h-11.2zM1127.2 341.4l5.6 11.2h-11.2zM1136.6 342.0l5.6 11.2h-11.2zM1146.0 346.4l5.6 11.2h-11.2zM1155.4 347.0l5.6 11.2h-11.2zM1164.9 347.0l5.6 11.2h-11.2zM1174.3 351.4l5.6 11.2h-11.2zM1183.7 352.6l5.6 11.2h-11.2zM1117.8 355.1l5.6 11.2h-11.2zM1202.5 355.8l5.6 11.2h-11.2zM1136.6 359.5l5.6 11.2h-11.2zM1155.4 363.3l5.6 11.2h-11.2zM1174.3 363.9l5.6 11.2h-11.2zM1183.7 365.8l5.6 11.2h-11.2zM1108.4 367.0l5.6 11.2h-11.2zM1117.8 367.6l5.6 11.2h-11.2zM1146.0 367.6l5.6 11.2h-11.2zM1193.1 367.6l5.6 11.2h-11.2zM1202.5 372.6l5.6 11.2h-11.2zM1136.6 373.9l5.6 11.2h-11.2zM1127.2 375.7l5.6 11.2h-11.2zM1164.9 377.0l5.6 11.2h-11.2zM1211.9 377.6l5.6 11.2h-11.2zM1174.3 378.9l5.6 11.2h-11.2zM1117.8 380.7l5.6 11.2h-11.2zM1146.0 380.7l5.6 11.2h-11.2zM1155.4 379.5l5.6 11.2h-11.2zM1193.1 381.4l5.6 11.2h-11.2zM1108.4 387.4l5.6 11.2h-11.2zM1127.2 388.0l5.6 11.2h-11.2zM1136.6 386.7l5.6 11.2h-11.2zM1202.5 386.7l5.6 11.2h-11.2zM1183.7 390.5l5.6 11.2h-11.2zM1211.9 391.1l5.6 11.2h-11.2zM1164.9 390.5l5.6 11.2h-11.2zM1146.0 393.6l5.6 11.2h-11.2zM1155.4 393.0l5.6 11.2h-11.2zM1174.3 393.0l5.6 11.2h-11.2zM1193.1 398.6l5.6 11.2h-11.2zM1202.5 399.8l5.6 11.2h-11.2zM1117.8 401.7l5.6 11.2h-11.2zM1136.6 401.7l5.6 11.2h-11.2zM1183.7 403.0l5.6 11.2h-11.2zM1155.4 406.1l5.6 11.2h-11.2zM1174.3 406.7l5.6 11.2h-11.2zM1146.0 408.6l5.6 11.2h-11.2zM1164.9 408.0l5.6 11.2h-11.2zM1127.2 411.1l5.6 11.2h-11.2zM1193.1 412.9l5.6 11.2h-11.2zM1136.6 417.9l5.6 11.2h-11.2zM1155.4 417.3l5.6 11.2h-11.2zM1146.0 421.1l5.6 11.2h-11.2zM1174.3 421.7l5.6 11.2h-11.2zM1164.9 423.6l5.6 11.2h-11.2zM1136.6 432.3l5.6 11.2h-11.2zM1146.0 436.7l5.6 11.2h-11.2zM1174.3 435.4l5.6 11.2h-11.2zM1183.7 434.8l5.6 11.2h-11.2zM1164.9 441.0l5.6 11.2h-11.2zM1155.4 449.1l5.6 11.2h-11.2zM1164.9 454.1l5.6 11.2h-11.2zM1155.4 476.0l5.6 11.2h-11.2zM1164.9 484.1l5.6 11.2h-11.2zM1160.7 512.2l5.6 11.2h-11.2z" fill="#1236fb"/>
<path d="M871.7 156.00V565.50M869.70 563.5H1275.5" fill="none" stroke="#000" stroke-width="4.0"/>
<line x1="854.40" y1="563.50" x2="871.7" y2="563.50" stroke="#000" stroke-width="4.0"/>
<text class="b" transform="translate(851.00 574.00) scale(1 1.045)" font-size="32.5" text-anchor="end">0</text>
<line x1="854.40" y1="495.92" x2="871.7" y2="495.92" stroke="#000" stroke-width="4.0"/>
<text class="b" transform="translate(851.70 508.42) scale(1 1.045)" font-size="32.5" text-anchor="end"><tspan letter-spacing="0.8">1×10</tspan><tspan font-size="23.5" dx="0.4" dy="-10.2">-5</tspan></text>
<line x1="854.40" y1="428.33" x2="871.7" y2="428.33" stroke="#000" stroke-width="4.0"/>
<text class="b" transform="translate(851.70 440.83) scale(1 1.045)" font-size="32.5" text-anchor="end"><tspan letter-spacing="0.8">2×10</tspan><tspan font-size="23.5" dx="0.4" dy="-10.2">-5</tspan></text>
<line x1="854.40" y1="360.75" x2="871.7" y2="360.75" stroke="#000" stroke-width="4.0"/>
<text class="b" transform="translate(851.70 373.25) scale(1 1.045)" font-size="32.5" text-anchor="end"><tspan letter-spacing="0.8">3×10</tspan><tspan font-size="23.5" dx="0.4" dy="-10.2">-5</tspan></text>
<line x1="854.40" y1="293.17" x2="871.7" y2="293.17" stroke="#000" stroke-width="4.0"/>
<text class="b" transform="translate(851.70 305.67) scale(1 1.045)" font-size="32.5" text-anchor="end"><tspan letter-spacing="0.8">4×10</tspan><tspan font-size="23.5" dx="0.4" dy="-10.2">-5</tspan></text>
<line x1="854.40" y1="225.58" x2="871.7" y2="225.58" stroke="#000" stroke-width="4.0"/>
<text class="b" transform="translate(851.70 238.08) scale(1 1.045)" font-size="32.5" text-anchor="end"><tspan letter-spacing="0.8">5×10</tspan><tspan font-size="23.5" dx="0.4" dy="-10.2">-5</tspan></text>
<line x1="854.40" y1="158.00" x2="871.7" y2="158.00" stroke="#000" stroke-width="4.0"/>
<text class="b" transform="translate(851.70 170.50) scale(1 1.045)" font-size="32.5" text-anchor="end"><tspan letter-spacing="0.8">6×10</tspan><tspan font-size="23.5" dx="0.4" dy="-10.2">-5</tspan></text>
<line x1="986.6" y1="563.5" x2="986.6" y2="580.80" stroke="#000" stroke-width="4.0"/>
<text class="bx" transform="matrix(0.3047 0 0 0.2943 911.72 611.50)" font-size="100" font-weight="bold" stroke-width="2.00">RAW264.7</text>
<line x1="1160.6" y1="563.5" x2="1160.6" y2="580.80" stroke="#000" stroke-width="4.0"/>
<text class="bx" transform="matrix(0.3078 0 0 0.2986 1123.10 611.50)" font-size="100" font-weight="bold" stroke-width="1.98">BMM</text>
<text class="bx" transform="translate(717.70 534.51) rotate(-90) scale(0.3241 0.3420)" font-size="100" font-weight="bold" stroke-width="1.80">Mean FAD Signal (a.u.)</text>
<text class="pl" stroke-width="1.7"><tspan x="675.57" y="141.49" font-size="45.99" textLength="15.46" lengthAdjust="spacingAndGlyphs">(</tspan><tspan x="691.69" y="141.32" font-size="42.59" textLength="21.01" lengthAdjust="spacingAndGlyphs">b</tspan><tspan x="711.42" y="141.49" font-size="45.99" textLength="15.46" lengthAdjust="spacingAndGlyphs">)</tspan></text>
<path d="M983.1 177.4H1160.4M983.1 167.5v19.8M1160.4 167.5v19.8" stroke="#262626" stroke-width="2.1" fill="none"/>
<text class="sg" transform="matrix(0.3084 0 0 0.2486 1047.70 170.76)" font-size="100" font-weight="bold">****</text>
<g stroke="#262626" stroke-width="2.1" fill="none">
<rect x="1600.50" y="407.80" width="114.80" height="56.70" fill="#e9e9e9"/>
<path d="M1600.50 437.00H1715.30M1657.5 407.80V321.40M1657.5 464.50V536.20M1627.80 321.40H1687.20M1627.80 536.20H1687.20"/>
</g>
<path d="M1653.1 321.4a4.1 4.1 0 1 0 8.2 0a4.1 4.1 0 1 0-8.2 0M1650.2 331.4a4.1 4.1 0 1 0 8.2 0a4.1 4.1 0 1 0-8.2 0M1656.6 335.2a4.1 4.1 0 1 0 8.2 0a4.1 4.1 0 1 0-8.2 0M1650.2 342.7a4.1 4.1 0 1 0 8.2 0a4.1 4.1 0 1 0-8.2 0M1663.0 344.6a4.1 4.1 0 1 0 8.2 0a4.1 4.1 0 1 0-8.2 0M1643.8 349.6a4.1 4.1 0 1 0 8.2 0a4.1 4.1 0 1 0-8.2 0M1656.6 349.6a4.1 4.1 0 1 0 8.2 0a4.1 4.1 0 1 0-8.2 0M1663.0 354.6a4.1 4.1 0 1 0 8.2 0a4.1 4.1 0 1 0-8.2 0M1650.2 356.4a4.1 4.1 0 1 0 8.2 0a4.1 4.1 0 1 0-8.2 0M1643.8 360.6a4.1 4.1 0 1 0 8.2 0a4.1 4.1 0 1 0-8.2 0M1656.6 363.3a4.1 4.1 0 1 0 8.2 0a4.1 4.1 0 1 0-8.2 0M1663.0 363.3a4.1 4.1 0 1 0 8.2 0a4.1 4.1 0 1 0-8.2 0M1650.2 367.7a4.1 4.1 0 1 0 8.2 0a4.1 4.1 0 1 0-8.2 0M1643.8 374.4a4.1 4.1 0 1 0 8.2 0a4.1 4.1 0 1 0-8.2 0M1669.4 374.0a4.1 4.1 0 1 0 8.2 0a4.1 4.1 0 1 0-8.2 0M1650.2 379.6a4.1 4.1 0 1 0 8.2 0a4.1 4.1 0 1 0-8.2 0M1669.4 382.1a4.1 4.1 0 1 0 8.2 0a4.1 4.1 0 1 0-8.2 0M1656.6 384.0a4.1 4.1 0 1 0 8.2 0a4.1 4.1 0 1 0-8.2 0M1663.0 384.6a4.1 4.1 0 1 0 8.2 0a4.1 4.1 0 1 0-8.2 0M1643.8 386.5a4.1 4.1 0 1 0 8.2 0a4.1 4.1 0 1 0-8.2 0M1631.0 391.9a4.1 4.1 0 1 0 8.2 0a4.1 4.1 0 1 0-8.2 0M1637.4 392.8a4.1 4.1 0 1 0 8.2 0a4.1 4.1 0 1 0-8.2 0M1643.8 394.6a4.1 4.1 0 1 0 8.2 0a4.1 4.1 0 1 0-8.2 0M1669.4 390.9a4.1 4.1 0 1 0 8.2 0a4.1 4.1 0 1 0-8.2 0M1675.7 390.9a4.1 4.1 0 1 0 8.2 0a4.1 4.1 0 1 0-8.2 0M1656.6 394.6a4.1 4.1 0 1 0 8.2 0a4.1 4.1 0 1 0-8.2 0M1663.0 397.1a4.1 4.1 0 1 0 8.2 0a4.1 4.1 0 1 0-8.2 0M1650.2 398.4a4.1 4.1 0 1 0 8.2 0a4.1 4.1 0 1 0-8.2 0M1669.4 399.6a4.1 4.1 0 1 0 8.2 0a4.1 4.1 0 1 0-8.2 0M1675.7 401.5a4.1 4.1 0 1 0 8.2 0a4.1 4.1 0 1 0-8.2 0M1643.8 403.4a4.1 4.1 0 1 0 8.2 0a4.1 4.1 0 1 0-8.2 0M1682.1 405.3a4.1 4.1 0 1 0 8.2 0a4.1 4.1 0 1 0-8.2 0M1637.4 406.5a4.1 4.1 0 1 0 8.2 0a4.1 4.1 0 1 0-8.2 0M1656.6 405.9a4.1 4.1 0 1 0 8.2 0a4.1 4.1 0 1 0-8.2 0M1650.2 409.0a4.1 4.1 0 1 0 8.2 0a4.1 4.1 0 1 0-8.2 0M1663.0 409.0a4.1 4.1 0 1 0 8.2 0a4.1 4.1 0 1 0-8.2 0M1675.7 410.3a4.1 4.1 0 1 0 8.2 0a4.1 4.1 0 1 0-8.2 0M1631.0 413.2a4.1 4.1 0 1 0 8.2 0a4.1 4.1 0 1 0-8.2 0M1643.8 412.8a4.1 4.1 0 1 0 8.2 0a4.1 4.1 0 1 0-8.2 0M1669.4 413.4a4.1 4.1 0 1 0 8.2 0a4.1 4.1 0 1 0-8.2 0M1637.4 418.4a4.1 4.1 0 1 0 8.2 0a4.1 4.1 0 1 0-8.2 0M1682.1 417.8a4.1 4.1 0 1 0 8.2 0a4.1 4.1 0 1 0-8.2 0M1688.5 417.2a4.1 4.1 0 1 0 8.2 0a4.1 4.1 0 1 0-8.2 0M1650.2 422.8a4.1 4.1 0 1 0 8.2 0a4.1 4.1 0 1 0-8.2 0M1669.4 423.2a4.1 4.1 0 1 0 8.2 0a4.1 4.1 0 1 0-8.2 0M1618.3 423.4a4.1 4.1 0 1 0 8.2 0a4.1 4.1 0 1 0-8.2 0M1624.7 425.9a4.1 4.1 0 1 0 8.2 0a4.1 4.1 0 1 0-8.2 0M1694.9 423.8a4.1 4.1 0 1 0 8.2 0a4.1 4.1 0 1 0-8.2 0M1637.4 427.2a4.1 4.1 0 1 0 8.2 0a4.1 4.1 0 1 0-8.2 0M1656.6 428.4a4.1 4.1 0 1 0 8.2 0a4.1 4.1 0 1 0-8.2 0M1663.0 429.7a4.1 4.1 0 1 0 8.2 0a4.1 4.1 0 1 0-8.2 0M1675.7 427.8a4.1 4.1 0 1 0 8.2 0a4.1 4.1 0 1 0-8.2 0M1669.4 431.6a4.1 4.1 0 1 0 8.2 0a4.1 4.1 0 1 0-8.2 0M1605.5 428.4a4.1 4.1 0 1 0 8.2 0a4.1 4.1 0 1 0-8.2 0M1599.1 430.9a4.1 4.1 0 1 0 8.2 0a4.1 4.1 0 1 0-8.2 0M1701.3 429.1a4.1 4.1 0 1 0 8.2 0a4.1 4.1 0 1 0-8.2 0M1707.7 430.9a4.1 4.1 0 1 0 8.2 0a4.1 4.1 0 1 0-8.2 0M1611.9 433.2a4.1 4.1 0 1 0 8.2 0a4.1 4.1 0 1 0-8.2 0M1618.3 434.1a4.1 4.1 0 1 0 8.2 0a4.1 4.1 0 1 0-8.2 0M1624.7 434.1a4.1 4.1 0 1 0 8.2 0a4.1 4.1 0 1 0-8.2 0M1643.8 432.8a4.1 4.1 0 1 0 8.2 0a4.1 4.1 0 1 0-8.2 0M1650.2 433.4a4.1 4.1 0 1 0 8.2 0a4.1 4.1 0 1 0-8.2 0M1682.1 432.8a4.1 4.1 0 1 0 8.2 0a4.1 4.1 0 1 0-8.2 0M1688.5 433.2a4.1 4.1 0 1 0 8.2 0a4.1 4.1 0 1 0-8.2 0M1694.9 434.1a4.1 4.1 0 1 0 8.2 0a4.1 4.1 0 1 0-8.2 0M1637.4 435.3a4.1 4.1 0 1 0 8.2 0a4.1 4.1 0 1 0-8.2 0M1631.0 438.5a4.1 4.1 0 1 0 8.2 0a4.1 4.1 0 1 0-8.2 0M1656.6 437.2a4.1 4.1 0 1 0 8.2 0a4.1 4.1 0 1 0-8.2 0M1663.0 439.7a4.1 4.1 0 1 0 8.2 0a4.1 4.1 0 1 0-8.2 0M1675.7 437.8a4.1 4.1 0 1 0 8.2 0a4.1 4.1 0 1 0-8.2 0M1688.5 441.0a4.1 4.1 0 1 0 8.2 0a4.1 4.1 0 1 0-8.2 0M1618.3 443.5a4.1 4.1 0 1 0 8.2 0a4.1 4.1 0 1 0-8.2 0M1637.4 444.1a4.1 4.1 0 1 0 8.2 0a4.1 4.1 0 1 0-8.2 0M1682.1 446.0a4.1 4.1 0 1 0 8.2 0a4.1 4.1 0 1 0-8.2 0M1650.2 447.2a4.1 4.1 0 1 0 8.2 0a4.1 4.1 0 1 0-8.2 0M1624.7 448.5a4.1 4.1 0 1 0 8.2 0a4.1 4.1 0 1 0-8.2 0M1631.0 449.7a4.1 4.1 0 1 0 8.2 0a4.1 4.1 0 1 0-8.2 0M1643.8 450.7a4.1 4.1 0 1 0 8.2 0a4.1 4.1 0 1 0-8.2 0M1688.5 450.7a4.1 4.1 0 1 0 8.2 0a4.1 4.1 0 1 0-8.2 0M1656.6 452.3a4.1 4.1 0 1 0 8.2 0a4.1 4.1 0 1 0-8.2 0M1663.0 453.8a4.1 4.1 0 1 0 8.2 0a4.1 4.1 0 1 0-8.2 0M1605.5 454.7a4.1 4.1 0 1 0 8.2 0a4.1 4.1 0 1 0-8.2 0M1618.3 454.1a4.1 4.1 0 1 0 8.2 0a4.1 4.1 0 1 0-8.2 0M1694.9 453.2a4.1 4.1 0 1 0 8.2 0a4.1 4.1 0 1 0-8.2 0M1701.3 454.5a4.1 4.1 0 1 0 8.2 0a4.1 4.1 0 1 0-8.2 0M1637.4 455.1a4.1 4.1 0 1 0 8.2 0a4.1 4.1 0 1 0-8.2 0M1669.4 455.7a4.1 4.1 0 1 0 8.2 0a4.1 4.1 0 1 0-8.2 0M1675.7 455.7a4.1 4.1 0 1 0 8.2 0a4.1 4.1 0 1 0-8.2 0M1682.1 457.0a4.1 4.1 0 1 0 8.2 0a4.1 4.1 0 1 0-8.2 0M1650.2 457.6a4.1 4.1 0 1 0 8.2 0a4.1 4.1 0 1 0-8.2 0M1611.9 458.8a4.1 4.1 0 1 0 8.2 0a4.1 4.1 0 1 0-8.2 0M1624.7 456.3a4.1 4.1 0 1 0 8.2 0a4.1 4.1 0 1 0-8.2 0M1631.0 457.8a4.1 4.1 0 1 0 8.2 0a4.1 4.1 0 1 0-8.2 0M1688.5 459.5a4.1 4.1 0 1 0 8.2 0a4.1 4.1 0 1 0-8.2 0M1694.9 462.0a4.1 4.1 0 1 0 8.2 0a4.1 4.1 0 1 0-8.2 0M1618.3 462.4a4.1 4.1 0 1 0 8.2 0a4.1 4.1 0 1 0-8.2 0M1663.0 462.0a4.1 4.1 0 1 0 8.2 0a4.1 4.1 0 1 0-8.2 0M1637.4 463.2a4.1 4.1 0 1 0 8.2 0a4.1 4.1 0 1 0-8.2 0M1656.6 465.1a4.1 4.1 0 1 0 8.2 0a4.1 4.1 0 1 0-8.2 0M1631.0 466.4a4.1 4.1 0 1 0 8.2 0a4.1 4.1 0 1 0-8.2 0M1669.4 466.4a4.1 4.1 0 1 0 8.2 0a4.1 4.1 0 1 0-8.2 0M1675.7 466.4a4.1 4.1 0 1 0 8.2 0a4.1 4.1 0 1 0-8.2 0M1643.8 470.1a4.1 4.1 0 1 0 8.2 0a4.1 4.1 0 1 0-8.2 0M1656.6 472.6a4.1 4.1 0 1 0 8.2 0a4.1 4.1 0 1 0-8.2 0M1650.2 475.7a4.1 4.1 0 1 0 8.2 0a4.1 4.1 0 1 0-8.2 0M1631.0 476.6a4.1 4.1 0 1 0 8.2 0a4.1 4.1 0 1 0-8.2 0M1675.7 475.5a4.1 4.1 0 1 0 8.2 0a4.1 4.1 0 1 0-8.2 0M1669.4 477.0a4.1 4.1 0 1 0 8.2 0a4.1 4.1 0 1 0-8.2 0M1637.4 481.1a4.1 4.1 0 1 0 8.2 0a4.1 4.1 0 1 0-8.2 0M1643.8 479.9a4.1 4.1 0 1 0 8.2 0a4.1 4.1 0 1 0-8.2 0M1663.0 481.4a4.1 4.1 0 1 0 8.2 0a4.1 4.1 0 1 0-8.2 0M1650.2 485.8a4.1 4.1 0 1 0 8.2 0a4.1 4.1 0 1 0-8.2 0M1643.8 488.6a4.1 4.1 0 1 0 8.2 0a4.1 4.1 0 1 0-8.2 0M1669.4 488.3a4.1 4.1 0 1 0 8.2 0a4.1 4.1 0 1 0-8.2 0M1631.0 495.2a4.1 4.1 0 1 0 8.2 0a4.1 4.1 0 1 0-8.2 0M1663.0 494.2a4.1 4.1 0 1 0 8.2 0a4.1 4.1 0 1 0-8.2 0M1675.7 493.9a4.1 4.1 0 1 0 8.2 0a4.1 4.1 0 1 0-8.2 0M1650.2 496.4a4.1 4.1 0 1 0 8.2 0a4.1 4.1 0 1 0-8.2 0M1656.6 496.2a4.1 4.1 0 1 0 8.2 0a4.1 4.1 0 1 0-8.2 0M1643.8 499.5a4.1 4.1 0 1 0 8.2 0a4.1 4.1 0 1 0-8.2 0M1669.4 499.2a4.1 4.1 0 1 0 8.2 0a4.1 4.1 0 1 0-8.2 0M1637.4 503.7a4.1 4.1 0 1 0 8.2 0a4.1 4.1 0 1 0-8.2 0M1643.8 509.9a4.1 4.1 0 1 0 8.2 0a4.1 4.1 0 1 0-8.2 0M1650.2 509.6a4.1 4.1 0 1 0 8.2 0a4.1 4.1 0 1 0-8.2 0M1663.0 508.7a4.1 4.1 0 1 0 8.2 0a4.1 4.1 0 1 0-8.2 0M1669.4 508.3a4.1 4.1 0 1 0 8.2 0a4.1 4.1 0 1 0-8.2 0M1656.6 511.7a4.1 4.1 0 1 0 8.2 0a4.1 4.1 0 1 0-8.2 0M1653.1 521.2a4.1 4.1 0 1 0 8.2 0a4.1 4.1 0 1 0-8.2 0M1650.2 529.6a4.1 4.1 0 1 0 8.2 0a4.1 4.1 0 1 0-8.2 0M1663.0 530.2a4.1 4.1 0 1 0 8.2 0a4.1 4.1 0 1 0-8.2 0M1643.8 536.5a4.1 4.1 0 1 0 8.2 0a4.1 4.1 0 1 0-8.2 0M1656.6 535.8a4.1 4.1 0 1 0 8.2 0a4.1 4.1 0 1 0-8.2 0" fill="#262626"/>
<g stroke="#262626" stroke-width="2.1" fill="none">
<rect x="1774.80" y="324.40" width="114.80" height="64.40" fill="#cfd5f7"/>
<path d="M1774.80 355.20H1889.60M1832.1 324.40V237.40M1832.1 388.80V504.50M1802.40 237.40H1861.80M1802.40 504.50H1861.80"/>
</g>
<path d="M1817.3 231.8l5.6 11.2h-11.2zM1839.5 234.3l5.6 11.2h-11.2zM1846.9 238.7l5.6 11.2h-11.2zM1832.1 239.4l5.6 11.2h-11.2zM1824.7 244.4l5.6 11.2h-11.2zM1832.1 255.6l5.6 11.2h-11.2zM1861.7 267.5l5.6 11.2h-11.2zM1824.7 268.8l5.6 11.2h-11.2zM1802.6 273.8l5.6 11.2h-11.2zM1810.0 273.8l5.6 11.2h-11.2zM1817.3 275.7l5.6 11.2h-11.2zM1839.5 275.7l5.6 11.2h-11.2zM1846.9 276.9l5.6 11.2h-11.2zM1854.3 277.5l5.6 11.2h-11.2zM1832.1 277.5l5.6 11.2h-11.2zM1824.7 283.2l5.6 11.2h-11.2zM1839.5 290.1l5.6 11.2h-11.2zM1846.9 290.1l5.6 11.2h-11.2zM1824.7 298.2l5.6 11.2h-11.2zM1854.3 298.8l5.6 11.2h-11.2zM1817.3 303.8l5.6 11.2h-11.2zM1810.0 305.1l5.6 11.2h-11.2zM1846.9 303.8l5.6 11.2h-11.2zM1832.1 308.2l5.6 11.2h-11.2zM1824.7 313.2l5.6 11.2h-11.2zM1869.1 312.6l5.6 11.2h-11.2zM1854.3 315.1l5.6 11.2h-11.2zM1802.6 316.4l5.6 11.2h-11.2zM1787.8 317.6l5.6 11.2h-11.2zM1795.2 319.5l5.6 11.2h-11.2zM1810.0 318.2l5.6 11.2h-11.2zM1817.3 317.6l5.6 11.2h-11.2zM1846.9 318.9l5.6 11.2h-11.2zM1861.7 317.6l5.6 11.2h-11.2zM1832.1 322.6l5.6 11.2h-11.2zM1839.5 324.5l5.6 11.2h-11.2zM1876.4 323.9l5.6 11.2h-11.2zM1883.8 327.6l5.6 11.2h-11.2zM1824.7 327.6l5.6 11.2h-11.2zM1869.1 326.4l5.6 11.2h-11.2zM1787.8 331.4l5.6 11.2h-11.2zM1795.2 332.0l5.6 11.2h-11.2zM1802.6 333.9l5.6 11.2h-11.2zM1817.3 330.8l5.6 11.2h-11.2zM1839.5 331.4l5.6 11.2h-11.2zM1846.9 332.0l5.6 11.2h-11.2zM1854.3 330.1l5.6 11.2h-11.2zM1861.7 331.4l5.6 11.2h-11.2zM1832.1 337.6l5.6 11.2h-11.2zM1876.4 337.6l5.6 11.2h-11.2zM1824.7 341.4l5.6 11.2h-11.2zM1869.1 342.0l5.6 11.2h-11.2zM1795.2 345.8l5.6 11.2h-11.2zM1802.6 346.4l5.6 11.2h-11.2zM1810.0 347.7l5.6 11.2h-11.2zM1817.3 347.0l5.6 11.2h-11.2zM1839.5 346.4l5.6 11.2h-11.2zM1846.9 345.1l5.6 11.2h-11.2zM1854.3 343.9l5.6 11.2h-11.2zM1883.8 347.7l5.6 11.2h-11.2zM1861.7 350.8l5.6 11.2h-11.2zM1832.1 351.4l5.6 11.2h-11.2zM1780.4 356.4l5.6 11.2h-11.2zM1787.8 356.4l5.6 11.2h-11.2zM1824.7 355.1l5.6 11.2h-11.2zM1854.3 356.4l5.6 11.2h-11.2zM1869.1 356.7l5.6 11.2h-11.2zM1876.4 356.4l5.6 11.2h-11.2zM1810.0 358.9l5.6 11.2h-11.2zM1839.5 358.2l5.6 11.2h-11.2zM1795.2 363.9l5.6 11.2h-11.2zM1802.6 362.6l5.6 11.2h-11.2zM1817.3 361.4l5.6 11.2h-11.2zM1839.5 366.4l5.6 11.2h-11.2zM1846.9 362.6l5.6 11.2h-11.2zM1883.8 363.9l5.6 11.2h-11.2zM1832.1 365.1l5.6 11.2h-11.2zM1861.7 365.1l5.6 11.2h-11.2zM1787.8 372.0l5.6 11.2h-11.2zM1824.7 368.9l5.6 11.2h-11.2zM1810.0 372.0l5.6 11.2h-11.2zM1817.3 372.6l5.6 11.2h-11.2zM1854.3 370.1l5.6 11.2h-11.2zM1869.1 370.8l5.6 11.2h-11.2zM1876.4 372.6l5.6 11.2h-11.2zM1839.5 374.5l5.6 11.2h-11.2zM1846.9 373.3l5.6 11.2h-11.2zM1795.2 378.3l5.6 11.2h-11.2zM1832.1 377.6l5.6 11.2h-11.2zM1861.7 378.3l5.6 11.2h-11.2zM1824.7 382.7l5.6 11.2h-11.2zM1854.3 382.7l5.6 11.2h-11.2zM1869.1 384.5l5.6 11.2h-11.2zM1802.6 380.8l5.6 11.2h-11.2zM1810.0 386.4l5.6 11.2h-11.2zM1846.9 387.7l5.6 11.2h-11.2zM1839.5 389.5l5.6 11.2h-11.2zM1817.3 389.5l5.6 11.2h-11.2zM1795.2 393.3l5.6 11.2h-11.2zM1802.6 395.8l5.6 11.2h-11.2zM1824.7 395.2l5.6 11.2h-11.2zM1832.1 392.0l5.6 11.2h-11.2zM1861.7 392.7l5.6 11.2h-11.2zM1876.4 393.3l5.6 11.2h-11.2zM1810.0 398.3l5.6 11.2h-11.2zM1854.3 398.3l5.6 11.2h-11.2zM1817.3 399.6l5.6 11.2h-11.2zM1869.1 399.6l5.6 11.2h-11.2zM1846.9 402.1l5.6 11.2h-11.2zM1824.7 406.4l5.6 11.2h-11.2zM1839.5 407.1l5.6 11.2h-11.2zM1817.3 411.5l5.6 11.2h-11.2zM1846.9 415.8l5.6 11.2h-11.2zM1839.5 422.1l5.6 11.2h-11.2zM1817.3 427.7l5.6 11.2h-11.2zM1824.7 427.1l5.6 11.2h-11.2zM1846.9 430.2l5.6 11.2h-11.2zM1839.5 435.2l5.6 11.2h-11.2zM1832.1 441.5l5.6 11.2h-11.2zM1839.5 452.8l5.6 11.2h-11.2zM1824.7 462.8l5.6 11.2h-11.2zM1839.5 467.8l5.6 11.2h-11.2zM1832.1 487.0l5.6 11.2h-11.2zM1824.7 498.3l5.6 11.2h-11.2zM1839.5 496.4l5.6 11.2h-11.2zM1876.0 365.0l5.6 11.2h-11.2zM1876.0 348.6l5.6 11.2h-11.2zM1810.0 339.5l5.6 11.2h-11.2zM1840.0 382.1l5.6 11.2h-11.2zM1847.0 353.6l5.6 11.2h-11.2zM1803.0 326.2l5.6 11.2h-11.2zM1803.0 355.3l5.6 11.2h-11.2zM1817.0 380.0l5.6 11.2h-11.2zM1795.0 355.0l5.6 11.2h-11.2zM1810.0 329.7l5.6 11.2h-11.2z" fill="#1236fb"/>
<path d="M1541.4 158.90V569.90M1539.40 567.9H1948.0" fill="none" stroke="#000" stroke-width="4.0"/>
<line x1="1524.10" y1="567.90" x2="1541.4" y2="567.90" stroke="#000" stroke-width="4.0"/>
<text class="b" transform="translate(1520.70 578.40) scale(1 1.045)" font-size="32.5" text-anchor="end">0</text>
<line x1="1524.10" y1="500.07" x2="1541.4" y2="500.07" stroke="#000" stroke-width="4.0"/>
<text class="b" transform="translate(1521.40 512.57) scale(1 1.045)" font-size="32.5" text-anchor="end"><tspan letter-spacing="0.8">1×10</tspan><tspan font-size="23.5" dx="0.4" dy="-10.2">-5</tspan></text>
<line x1="1524.10" y1="432.23" x2="1541.4" y2="432.23" stroke="#000" stroke-width="4.0"/>
<text class="b" transform="translate(1521.40 444.73) scale(1 1.045)" font-size="32.5" text-anchor="end"><tspan letter-spacing="0.8">2×10</tspan><tspan font-size="23.5" dx="0.4" dy="-10.2">-5</tspan></text>
<line x1="1524.10" y1="364.40" x2="1541.4" y2="364.40" stroke="#000" stroke-width="4.0"/>
<text class="b" transform="translate(1521.40 376.90) scale(1 1.045)" font-size="32.5" text-anchor="end"><tspan letter-spacing="0.8">3×10</tspan><tspan font-size="23.5" dx="0.4" dy="-10.2">-5</tspan></text>
<line x1="1524.10" y1="296.57" x2="1541.4" y2="296.57" stroke="#000" stroke-width="4.0"/>
<text class="b" transform="translate(1521.40 309.07) scale(1 1.045)" font-size="32.5" text-anchor="end"><tspan letter-spacing="0.8">4×10</tspan><tspan font-size="23.5" dx="0.4" dy="-10.2">-5</tspan></text>
<line x1="1524.10" y1="228.73" x2="1541.4" y2="228.73" stroke="#000" stroke-width="4.0"/>
<text class="b" transform="translate(1521.40 241.23) scale(1 1.045)" font-size="32.5" text-anchor="end"><tspan letter-spacing="0.8">5×10</tspan><tspan font-size="23.5" dx="0.4" dy="-10.2">-5</tspan></text>
<line x1="1524.10" y1="160.90" x2="1541.4" y2="160.90" stroke="#000" stroke-width="4.0"/>
<text class="b" transform="translate(1521.40 173.40) scale(1 1.045)" font-size="32.5" text-anchor="end"><tspan letter-spacing="0.8">6×10</tspan><tspan font-size="23.5" dx="0.4" dy="-10.2">-5</tspan></text>
<line x1="1657.5" y1="567.9" x2="1657.5" y2="585.20" stroke="#000" stroke-width="4.0"/>
<text class="bx" transform="matrix(0.3047 0 0 0.2943 1582.62 615.90)" font-size="100" font-weight="bold" stroke-width="2.00">RAW264.7</text>
<line x1="1832.1" y1="567.9" x2="1832.1" y2="585.20" stroke="#000" stroke-width="4.0"/>
<text class="bx" transform="matrix(0.3078 0 0 0.2986 1794.60 615.90)" font-size="100" font-weight="bold" stroke-width="1.98">BMM</text>
<text class="bx" transform="translate(1387.20 537.51) rotate(-90) scale(0.3241 0.3420)" font-size="100" font-weight="bold" stroke-width="1.80">Mean FAD Signal (a.u.)</text>
<text class="pl" stroke-width="1.7"><tspan x="1344.17" y="141.49" font-size="45.99" textLength="15.46" lengthAdjust="spacingAndGlyphs">(</tspan><tspan x="1358.90" y="141.34" font-size="41.45" textLength="18.16" lengthAdjust="spacingAndGlyphs">c</tspan><tspan x="1375.02" y="141.49" font-size="45.99" textLength="15.46" lengthAdjust="spacingAndGlyphs">)</tspan></text>
<path d="M1654.1 180.0H1832.4M1654.1 170.1v19.8M1832.4 170.1v19.8" stroke="#262626" stroke-width="2.1" fill="none"/>
<text class="sg" transform="matrix(0.3084 0 0 0.2486 1719.20 173.36)" font-size="100" font-weight="bold">****</text>
<g stroke="#262626" stroke-width="2.1" fill="none">
<rect x="271.50" y="926.20" width="113.30" height="100.40" fill="#e9e9e9"/>
<path d="M271.50 984.50H384.80M328.1 926.20V806.30M328.1 1026.60V1111.10M298.40 806.30H357.80M298.40 1111.10H357.80"/>
</g>
<path d="M324.0 806.0a4.1 4.1 0 1 0 8.2 0a4.1 4.1 0 1 0-8.2 0M324.0 837.3a4.1 4.1 0 1 0 8.2 0a4.1 4.1 0 1 0-8.2 0M318.1 854.1a4.1 4.1 0 1 0 8.2 0a4.1 4.1 0 1 0-8.2 0M330.0 857.4a4.1 4.1 0 1 0 8.2 0a4.1 4.1 0 1 0-8.2 0M306.2 859.5a4.1 4.1 0 1 0 8.2 0a4.1 4.1 0 1 0-8.2 0M341.9 859.5a4.1 4.1 0 1 0 8.2 0a4.1 4.1 0 1 0-8.2 0M353.8 857.6a4.1 4.1 0 1 0 8.2 0a4.1 4.1 0 1 0-8.2 0M294.3 867.4a4.1 4.1 0 1 0 8.2 0a4.1 4.1 0 1 0-8.2 0M306.2 870.1a4.1 4.1 0 1 0 8.2 0a4.1 4.1 0 1 0-8.2 0M330.0 868.9a4.1 4.1 0 1 0 8.2 0a4.1 4.1 0 1 0-8.2 0M341.9 869.1a4.1 4.1 0 1 0 8.2 0a4.1 4.1 0 1 0-8.2 0M353.8 875.1a4.1 4.1 0 1 0 8.2 0a4.1 4.1 0 1 0-8.2 0M330.0 877.6a4.1 4.1 0 1 0 8.2 0a4.1 4.1 0 1 0-8.2 0M341.9 877.6a4.1 4.1 0 1 0 8.2 0a4.1 4.1 0 1 0-8.2 0M306.2 881.1a4.1 4.1 0 1 0 8.2 0a4.1 4.1 0 1 0-8.2 0M318.1 881.4a4.1 4.1 0 1 0 8.2 0a4.1 4.1 0 1 0-8.2 0M330.0 888.3a4.1 4.1 0 1 0 8.2 0a4.1 4.1 0 1 0-8.2 0M341.9 887.9a4.1 4.1 0 1 0 8.2 0a4.1 4.1 0 1 0-8.2 0M294.3 891.2a4.1 4.1 0 1 0 8.2 0a4.1 4.1 0 1 0-8.2 0M306.2 893.9a4.1 4.1 0 1 0 8.2 0a4.1 4.1 0 1 0-8.2 0M318.1 893.9a4.1 4.1 0 1 0 8.2 0a4.1 4.1 0 1 0-8.2 0M330.0 897.7a4.1 4.1 0 1 0 8.2 0a4.1 4.1 0 1 0-8.2 0M341.9 901.2a4.1 4.1 0 1 0 8.2 0a4.1 4.1 0 1 0-8.2 0M306.2 903.3a4.1 4.1 0 1 0 8.2 0a4.1 4.1 0 1 0-8.2 0M318.1 912.7a4.1 4.1 0 1 0 8.2 0a4.1 4.1 0 1 0-8.2 0M341.9 910.4a4.1 4.1 0 1 0 8.2 0a4.1 4.1 0 1 0-8.2 0M353.8 910.8a4.1 4.1 0 1 0 8.2 0a4.1 4.1 0 1 0-8.2 0M365.7 918.1a4.1 4.1 0 1 0 8.2 0a4.1 4.1 0 1 0-8.2 0M282.4 920.0a4.1 4.1 0 1 0 8.2 0a4.1 4.1 0 1 0-8.2 0M318.1 920.8a4.1 4.1 0 1 0 8.2 0a4.1 4.1 0 1 0-8.2 0M330.0 920.8a4.1 4.1 0 1 0 8.2 0a4.1 4.1 0 1 0-8.2 0M306.2 923.3a4.1 4.1 0 1 0 8.2 0a4.1 4.1 0 1 0-8.2 0M294.3 925.2a4.1 4.1 0 1 0 8.2 0a4.1 4.1 0 1 0-8.2 0M341.9 925.8a4.1 4.1 0 1 0 8.2 0a4.1 4.1 0 1 0-8.2 0M353.8 925.8a4.1 4.1 0 1 0 8.2 0a4.1 4.1 0 1 0-8.2 0M282.4 928.7a4.1 4.1 0 1 0 8.2 0a4.1 4.1 0 1 0-8.2 0M365.7 928.0a4.1 4.1 0 1 0 8.2 0a4.1 4.1 0 1 0-8.2 0M330.0 930.8a4.1 4.1 0 1 0 8.2 0a4.1 4.1 0 1 0-8.2 0M318.1 933.7a4.1 4.1 0 1 0 8.2 0a4.1 4.1 0 1 0-8.2 0M294.3 935.9a4.1 4.1 0 1 0 8.2 0a4.1 4.1 0 1 0-8.2 0M341.9 935.9a4.1 4.1 0 1 0 8.2 0a4.1 4.1 0 1 0-8.2 0M282.4 939.4a4.1 4.1 0 1 0 8.2 0a4.1 4.1 0 1 0-8.2 0M306.2 938.8a4.1 4.1 0 1 0 8.2 0a4.1 4.1 0 1 0-8.2 0M330.0 940.1a4.1 4.1 0 1 0 8.2 0a4.1 4.1 0 1 0-8.2 0M353.8 940.7a4.1 4.1 0 1 0 8.2 0a4.1 4.1 0 1 0-8.2 0M318.1 943.2a4.1 4.1 0 1 0 8.2 0a4.1 4.1 0 1 0-8.2 0M341.9 947.0a4.1 4.1 0 1 0 8.2 0a4.1 4.1 0 1 0-8.2 0M318.1 954.5a4.1 4.1 0 1 0 8.2 0a4.1 4.1 0 1 0-8.2 0M270.5 955.7a4.1 4.1 0 1 0 8.2 0a4.1 4.1 0 1 0-8.2 0M282.4 956.6a4.1 4.1 0 1 0 8.2 0a4.1 4.1 0 1 0-8.2 0M294.3 957.6a4.1 4.1 0 1 0 8.2 0a4.1 4.1 0 1 0-8.2 0M330.0 956.1a4.1 4.1 0 1 0 8.2 0a4.1 4.1 0 1 0-8.2 0M365.7 955.3a4.1 4.1 0 1 0 8.2 0a4.1 4.1 0 1 0-8.2 0M377.5 956.3a4.1 4.1 0 1 0 8.2 0a4.1 4.1 0 1 0-8.2 0M341.9 958.2a4.1 4.1 0 1 0 8.2 0a4.1 4.1 0 1 0-8.2 0M353.8 962.2a4.1 4.1 0 1 0 8.2 0a4.1 4.1 0 1 0-8.2 0M294.3 965.7a4.1 4.1 0 1 0 8.2 0a4.1 4.1 0 1 0-8.2 0M318.1 965.1a4.1 4.1 0 1 0 8.2 0a4.1 4.1 0 1 0-8.2 0M330.0 964.9a4.1 4.1 0 1 0 8.2 0a4.1 4.1 0 1 0-8.2 0M306.2 971.6a4.1 4.1 0 1 0 8.2 0a4.1 4.1 0 1 0-8.2 0M353.8 972.6a4.1 4.1 0 1 0 8.2 0a4.1 4.1 0 1 0-8.2 0M294.3 974.7a4.1 4.1 0 1 0 8.2 0a4.1 4.1 0 1 0-8.2 0M318.1 977.9a4.1 4.1 0 1 0 8.2 0a4.1 4.1 0 1 0-8.2 0M341.9 977.0a4.1 4.1 0 1 0 8.2 0a4.1 4.1 0 1 0-8.2 0M306.2 982.0a4.1 4.1 0 1 0 8.2 0a4.1 4.1 0 1 0-8.2 0M270.5 985.8a4.1 4.1 0 1 0 8.2 0a4.1 4.1 0 1 0-8.2 0M282.4 984.9a4.1 4.1 0 1 0 8.2 0a4.1 4.1 0 1 0-8.2 0M341.9 985.1a4.1 4.1 0 1 0 8.2 0a4.1 4.1 0 1 0-8.2 0M330.0 987.0a4.1 4.1 0 1 0 8.2 0a4.1 4.1 0 1 0-8.2 0M294.3 987.6a4.1 4.1 0 1 0 8.2 0a4.1 4.1 0 1 0-8.2 0M353.8 990.1a4.1 4.1 0 1 0 8.2 0a4.1 4.1 0 1 0-8.2 0M306.2 991.1a4.1 4.1 0 1 0 8.2 0a4.1 4.1 0 1 0-8.2 0M365.7 991.1a4.1 4.1 0 1 0 8.2 0a4.1 4.1 0 1 0-8.2 0M318.1 993.3a4.1 4.1 0 1 0 8.2 0a4.1 4.1 0 1 0-8.2 0M270.5 995.8a4.1 4.1 0 1 0 8.2 0a4.1 4.1 0 1 0-8.2 0M282.4 996.2a4.1 4.1 0 1 0 8.2 0a4.1 4.1 0 1 0-8.2 0M294.3 996.4a4.1 4.1 0 1 0 8.2 0a4.1 4.1 0 1 0-8.2 0M330.0 997.0a4.1 4.1 0 1 0 8.2 0a4.1 4.1 0 1 0-8.2 0M341.9 995.2a4.1 4.1 0 1 0 8.2 0a4.1 4.1 0 1 0-8.2 0M377.5 995.8a4.1 4.1 0 1 0 8.2 0a4.1 4.1 0 1 0-8.2 0M353.8 999.8a4.1 4.1 0 1 0 8.2 0a4.1 4.1 0 1 0-8.2 0M365.7 1002.7a4.1 4.1 0 1 0 8.2 0a4.1 4.1 0 1 0-8.2 0M282.4 1004.5a4.1 4.1 0 1 0 8.2 0a4.1 4.1 0 1 0-8.2 0M294.3 1004.5a4.1 4.1 0 1 0 8.2 0a4.1 4.1 0 1 0-8.2 0M341.9 1005.8a4.1 4.1 0 1 0 8.2 0a4.1 4.1 0 1 0-8.2 0M306.2 1008.3a4.1 4.1 0 1 0 8.2 0a4.1 4.1 0 1 0-8.2 0M318.1 1008.3a4.1 4.1 0 1 0 8.2 0a4.1 4.1 0 1 0-8.2 0M330.0 1008.9a4.1 4.1 0 1 0 8.2 0a4.1 4.1 0 1 0-8.2 0M353.8 1010.8a4.1 4.1 0 1 0 8.2 0a4.1 4.1 0 1 0-8.2 0M294.3 1012.7a4.1 4.1 0 1 0 8.2 0a4.1 4.1 0 1 0-8.2 0M341.9 1015.8a4.1 4.1 0 1 0 8.2 0a4.1 4.1 0 1 0-8.2 0M318.1 1017.7a4.1 4.1 0 1 0 8.2 0a4.1 4.1 0 1 0-8.2 0M330.0 1018.3a4.1 4.1 0 1 0 8.2 0a4.1 4.1 0 1 0-8.2 0M353.8 1020.2a4.1 4.1 0 1 0 8.2 0a4.1 4.1 0 1 0-8.2 0M365.7 1022.4a4.1 4.1 0 1 0 8.2 0a4.1 4.1 0 1 0-8.2 0M341.9 1024.0a4.1 4.1 0 1 0 8.2 0a4.1 4.1 0 1 0-8.2 0M282.4 1025.2a4.1 4.1 0 1 0 8.2 0a4.1 4.1 0 1 0-8.2 0M306.2 1025.2a4.1 4.1 0 1 0 8.2 0a4.1 4.1 0 1 0-8.2 0M330.0 1028.3a4.1 4.1 0 1 0 8.2 0a4.1 4.1 0 1 0-8.2 0M353.8 1028.3a4.1 4.1 0 1 0 8.2 0a4.1 4.1 0 1 0-8.2 0M270.5 1029.6a4.1 4.1 0 1 0 8.2 0a4.1 4.1 0 1 0-8.2 0M377.5 1029.0a4.1 4.1 0 1 0 8.2 0a4.1 4.1 0 1 0-8.2 0M294.3 1031.2a4.1 4.1 0 1 0 8.2 0a4.1 4.1 0 1 0-8.2 0M318.1 1030.8a4.1 4.1 0 1 0 8.2 0a4.1 4.1 0 1 0-8.2 0M365.7 1031.5a4.1 4.1 0 1 0 8.2 0a4.1 4.1 0 1 0-8.2 0M341.9 1032.1a4.1 4.1 0 1 0 8.2 0a4.1 4.1 0 1 0-8.2 0M306.2 1034.0a4.1 4.1 0 1 0 8.2 0a4.1 4.1 0 1 0-8.2 0M330.0 1037.1a4.1 4.1 0 1 0 8.2 0a4.1 4.1 0 1 0-8.2 0M353.8 1038.3a4.1 4.1 0 1 0 8.2 0a4.1 4.1 0 1 0-8.2 0M282.4 1040.0a4.1 4.1 0 1 0 8.2 0a4.1 4.1 0 1 0-8.2 0M318.1 1048.2a4.1 4.1 0 1 0 8.2 0a4.1 4.1 0 1 0-8.2 0M330.0 1049.7a4.1 4.1 0 1 0 8.2 0a4.1 4.1 0 1 0-8.2 0M341.9 1047.6a4.1 4.1 0 1 0 8.2 0a4.1 4.1 0 1 0-8.2 0M353.8 1046.7a4.1 4.1 0 1 0 8.2 0a4.1 4.1 0 1 0-8.2 0M365.7 1046.4a4.1 4.1 0 1 0 8.2 0a4.1 4.1 0 1 0-8.2 0M282.4 1052.6a4.1 4.1 0 1 0 8.2 0a4.1 4.1 0 1 0-8.2 0M306.2 1052.6a4.1 4.1 0 1 0 8.2 0a4.1 4.1 0 1 0-8.2 0M353.8 1055.1a4.1 4.1 0 1 0 8.2 0a4.1 4.1 0 1 0-8.2 0M365.7 1054.8a4.1 4.1 0 1 0 8.2 0a4.1 4.1 0 1 0-8.2 0M318.1 1057.6a4.1 4.1 0 1 0 8.2 0a4.1 4.1 0 1 0-8.2 0M294.3 1059.9a4.1 4.1 0 1 0 8.2 0a4.1 4.1 0 1 0-8.2 0M282.4 1061.4a4.1 4.1 0 1 0 8.2 0a4.1 4.1 0 1 0-8.2 0M330.0 1064.1a4.1 4.1 0 1 0 8.2 0a4.1 4.1 0 1 0-8.2 0M341.9 1064.1a4.1 4.1 0 1 0 8.2 0a4.1 4.1 0 1 0-8.2 0M353.8 1063.9a4.1 4.1 0 1 0 8.2 0a4.1 4.1 0 1 0-8.2 0M306.2 1065.4a4.1 4.1 0 1 0 8.2 0a4.1 4.1 0 1 0-8.2 0M318.1 1071.4a4.1 4.1 0 1 0 8.2 0a4.1 4.1 0 1 0-8.2 0M330.0 1072.7a4.1 4.1 0 1 0 8.2 0a4.1 4.1 0 1 0-8.2 0M318.1 1088.7a4.1 4.1 0 1 0 8.2 0a4.1 4.1 0 1 0-8.2 0M330.0 1088.7a4.1 4.1 0 1 0 8.2 0a4.1 4.1 0 1 0-8.2 0M324.0 1111.1a4.1 4.1 0 1 0 8.2 0a4.1 4.1 0 1 0-8.2 0" fill="#262626"/>
<g stroke="#262626" stroke-width="2.1" fill="none">
<rect x="445.20" y="923.30" width="113.30" height="91.80" fill="#cfd5f7"/>
<path d="M445.20 979.70H558.50M501.7 923.30V787.50M501.7 1015.10V1088.10M472.00 787.50H531.40M472.00 1088.10H531.40"/>
</g>
<path d="M491.4 781.3l5.6 11.2h-11.2zM512.1 792.0l5.6 11.2h-11.2zM491.4 803.0l5.6 11.2h-11.2zM501.7 822.7l5.6 11.2h-11.2zM512.1 835.8l5.6 11.2h-11.2zM522.4 838.3l5.6 11.2h-11.2zM481.1 840.4l5.6 11.2h-11.2zM501.7 846.5l5.6 11.2h-11.2zM512.1 849.6l5.6 11.2h-11.2zM491.4 850.6l5.6 11.2h-11.2zM501.7 860.8l5.6 11.2h-11.2zM512.1 865.2l5.6 11.2h-11.2zM532.7 868.6l5.6 11.2h-11.2zM470.8 874.6l5.6 11.2h-11.2zM501.7 877.1l5.6 11.2h-11.2zM481.1 883.1l5.6 11.2h-11.2zM491.4 883.1l5.6 11.2h-11.2zM512.1 883.1l5.6 11.2h-11.2zM522.4 883.6l5.6 11.2h-11.2zM491.4 898.2l5.6 11.2h-11.2zM501.7 900.9l5.6 11.2h-11.2zM512.1 906.5l5.6 11.2h-11.2zM481.1 914.3l5.6 11.2h-11.2zM491.4 915.8l5.6 11.2h-11.2zM501.7 917.0l5.6 11.2h-11.2zM522.4 923.3l5.6 11.2h-11.2zM512.1 926.8l5.6 11.2h-11.2zM532.7 926.0l5.6 11.2h-11.2zM460.4 933.5l5.6 11.2h-11.2zM543.1 933.5l5.6 11.2h-11.2zM491.4 934.3l5.6 11.2h-11.2zM522.4 937.7l5.6 11.2h-11.2zM481.1 941.8l5.6 11.2h-11.2zM512.1 941.4l5.6 11.2h-11.2zM532.7 941.4l5.6 11.2h-11.2zM501.7 943.1l5.6 11.2h-11.2zM470.8 946.4l5.6 11.2h-11.2zM460.4 947.7l5.6 11.2h-11.2zM543.1 945.8l5.6 11.2h-11.2zM491.4 950.2l5.6 11.2h-11.2zM512.1 953.6l5.6 11.2h-11.2zM501.7 955.8l5.6 11.2h-11.2zM470.8 967.7l5.6 11.2h-11.2zM481.1 967.1l5.6 11.2h-11.2zM512.1 968.6l5.6 11.2h-11.2zM522.4 970.6l5.6 11.2h-11.2zM460.4 972.7l5.6 11.2h-11.2zM501.7 973.1l5.6 11.2h-11.2zM491.4 975.2l5.6 11.2h-11.2zM543.1 977.1l5.6 11.2h-11.2zM470.8 981.1l5.6 11.2h-11.2zM481.1 981.9l5.6 11.2h-11.2zM522.4 984.4l5.6 11.2h-11.2zM501.7 985.9l5.6 11.2h-11.2zM512.1 985.9l5.6 11.2h-11.2zM460.4 989.0l5.6 11.2h-11.2zM491.4 989.6l5.6 11.2h-11.2zM543.1 992.1l5.6 11.2h-11.2zM450.1 995.6l5.6 11.2h-11.2zM553.4 996.5l5.6 11.2h-11.2zM470.8 997.1l5.6 11.2h-11.2zM481.1 998.2l5.6 11.2h-11.2zM512.1 998.2l5.6 11.2h-11.2zM522.4 997.1l5.6 11.2h-11.2zM532.7 999.9l5.6 11.2h-11.2zM501.7 1002.8l5.6 11.2h-11.2zM491.4 1004.0l5.6 11.2h-11.2zM543.1 1004.7l5.6 11.2h-11.2zM460.4 1007.8l5.6 11.2h-11.2zM450.1 1009.0l5.6 11.2h-11.2zM553.4 1008.4l5.6 11.2h-11.2zM481.1 1010.3l5.6 11.2h-11.2zM512.1 1010.9l5.6 11.2h-11.2zM522.4 1012.8l5.6 11.2h-11.2zM532.7 1014.7l5.6 11.2h-11.2zM491.4 1015.9l5.6 11.2h-11.2zM460.4 1020.8l5.6 11.2h-11.2zM543.1 1021.5l5.6 11.2h-11.2zM512.1 1024.6l5.6 11.2h-11.2zM481.1 1028.1l5.6 11.2h-11.2zM470.8 1029.6l5.6 11.2h-11.2zM501.7 1029.0l5.6 11.2h-11.2zM522.4 1029.0l5.6 11.2h-11.2zM532.7 1030.6l5.6 11.2h-11.2zM491.4 1031.5l5.6 11.2h-11.2zM512.1 1039.0l5.6 11.2h-11.2zM481.1 1040.2l5.6 11.2h-11.2zM501.7 1041.5l5.6 11.2h-11.2zM522.4 1044.6l5.6 11.2h-11.2zM491.4 1050.2l5.6 11.2h-11.2zM481.1 1061.5l5.6 11.2h-11.2zM501.7 1062.1l5.6 11.2h-11.2zM512.1 1062.1l5.6 11.2h-11.2zM522.4 1061.5l5.6 11.2h-11.2zM506.9 1076.5l5.6 11.2h-11.2zM496.6 1082.8l5.6 11.2h-11.2z" fill="#1236fb"/>
<path d="M213.3 736.60V1145.40M211.30 1143.4H617.0" fill="none" stroke="#000" stroke-width="4.0"/>
<line x1="196.00" y1="1143.40" x2="213.3" y2="1143.40" stroke="#000" stroke-width="4.0"/>
<text class="b" transform="translate(193.30 1155.90) scale(1 1.045)" font-size="32.5" text-anchor="end"><tspan letter-spacing="0.8">2×10</tspan><tspan font-size="23.5" dx="0.4" dy="-10.2">-5</tspan></text>
<line x1="196.00" y1="1042.20" x2="213.3" y2="1042.20" stroke="#000" stroke-width="4.0"/>
<text class="b" transform="translate(193.30 1054.70) scale(1 1.045)" font-size="32.5" text-anchor="end"><tspan letter-spacing="0.8">4×10</tspan><tspan font-size="23.5" dx="0.4" dy="-10.2">-5</tspan></text>
<line x1="196.00" y1="941.00" x2="213.3" y2="941.00" stroke="#000" stroke-width="4.0"/>
<text class="b" transform="translate(193.30 953.50) scale(1 1.045)" font-size="32.5" text-anchor="end"><tspan letter-spacing="0.8">6×10</tspan><tspan font-size="23.5" dx="0.4" dy="-10.2">-5</tspan></text>
<line x1="196.00" y1="839.80" x2="213.3" y2="839.80" stroke="#000" stroke-width="4.0"/>
<text class="b" transform="translate(193.30 852.30) scale(1 1.045)" font-size="32.5" text-anchor="end"><tspan letter-spacing="0.8">8×10</tspan><tspan font-size="23.5" dx="0.4" dy="-10.2">-5</tspan></text>
<line x1="196.00" y1="738.60" x2="213.3" y2="738.60" stroke="#000" stroke-width="4.0"/>
<text class="b" transform="translate(193.30 751.10) scale(1 1.045)" font-size="32.5" text-anchor="end"><tspan letter-spacing="0.8">1×10</tspan><tspan font-size="23.5" dx="0.4" dy="-10.2">-4</tspan></text>
<line x1="328.1" y1="1143.4" x2="328.1" y2="1160.70" stroke="#000" stroke-width="4.0"/>
<text class="bx" transform="matrix(0.3047 0 0 0.2943 253.22 1191.40)" font-size="100" font-weight="bold" stroke-width="2.00">RAW264.7</text>
<line x1="501.7" y1="1143.4" x2="501.7" y2="1160.70" stroke="#000" stroke-width="4.0"/>
<text class="bx" transform="matrix(0.3078 0 0 0.2986 464.20 1191.40)" font-size="100" font-weight="bold" stroke-width="1.98">BMM</text>
<text class="bx" transform="translate(49.40 1150.22) rotate(-90) scale(0.3258 0.3420)" font-size="100" font-weight="bold" stroke-width="1.80">Mean NAD(P)H Signal (a.u.)</text>
<text class="pl" stroke-width="1.7"><tspan x="11.47" y="684.51" font-size="46.84" textLength="15.46" lengthAdjust="spacingAndGlyphs">(</tspan><tspan x="26.14" y="684.14" font-size="41.36" textLength="22.37" lengthAdjust="spacingAndGlyphs">d</tspan><tspan x="47.02" y="684.51" font-size="46.84" textLength="15.46" lengthAdjust="spacingAndGlyphs">)</tspan></text>
<path d="M324.6 741.8H501.5M324.6 731.9v19.8M501.5 731.9v19.8" stroke="#262626" stroke-width="2.1" fill="none"/>
<text class="sg" x="416.75" y="733.50" font-size="31" text-anchor="middle">ns</text>
<g stroke="#262626" stroke-width="2.1" fill="none">
<rect x="934.70" y="906.95" width="114.00" height="101.44" fill="#e9e9e9"/>
<path d="M934.70 965.85H1048.70M991.6 906.95V785.80M991.6 1008.39V1093.76M961.90 785.80H1021.30M961.90 1093.76H1021.30"/>
</g>
<path d="M987.5 785.5a4.1 4.1 0 1 0 8.2 0a4.1 4.1 0 1 0-8.2 0M987.5 817.1a4.1 4.1 0 1 0 8.2 0a4.1 4.1 0 1 0-8.2 0M981.5 834.1a4.1 4.1 0 1 0 8.2 0a4.1 4.1 0 1 0-8.2 0M993.5 837.4a4.1 4.1 0 1 0 8.2 0a4.1 4.1 0 1 0-8.2 0M969.6 839.5a4.1 4.1 0 1 0 8.2 0a4.1 4.1 0 1 0-8.2 0M1005.5 839.5a4.1 4.1 0 1 0 8.2 0a4.1 4.1 0 1 0-8.2 0M1017.4 837.6a4.1 4.1 0 1 0 8.2 0a4.1 4.1 0 1 0-8.2 0M957.6 847.5a4.1 4.1 0 1 0 8.2 0a4.1 4.1 0 1 0-8.2 0M969.6 850.3a4.1 4.1 0 1 0 8.2 0a4.1 4.1 0 1 0-8.2 0M993.5 849.0a4.1 4.1 0 1 0 8.2 0a4.1 4.1 0 1 0-8.2 0M1005.5 849.3a4.1 4.1 0 1 0 8.2 0a4.1 4.1 0 1 0-8.2 0M1017.4 855.3a4.1 4.1 0 1 0 8.2 0a4.1 4.1 0 1 0-8.2 0M993.5 857.9a4.1 4.1 0 1 0 8.2 0a4.1 4.1 0 1 0-8.2 0M1005.5 857.9a4.1 4.1 0 1 0 8.2 0a4.1 4.1 0 1 0-8.2 0M969.6 861.4a4.1 4.1 0 1 0 8.2 0a4.1 4.1 0 1 0-8.2 0M981.5 861.7a4.1 4.1 0 1 0 8.2 0a4.1 4.1 0 1 0-8.2 0M993.5 868.6a4.1 4.1 0 1 0 8.2 0a4.1 4.1 0 1 0-8.2 0M1005.5 868.3a4.1 4.1 0 1 0 8.2 0a4.1 4.1 0 1 0-8.2 0M957.6 871.5a4.1 4.1 0 1 0 8.2 0a4.1 4.1 0 1 0-8.2 0M969.6 874.3a4.1 4.1 0 1 0 8.2 0a4.1 4.1 0 1 0-8.2 0M981.5 874.3a4.1 4.1 0 1 0 8.2 0a4.1 4.1 0 1 0-8.2 0M993.5 878.1a4.1 4.1 0 1 0 8.2 0a4.1 4.1 0 1 0-8.2 0M1005.5 881.7a4.1 4.1 0 1 0 8.2 0a4.1 4.1 0 1 0-8.2 0M969.6 883.8a4.1 4.1 0 1 0 8.2 0a4.1 4.1 0 1 0-8.2 0M981.5 893.3a4.1 4.1 0 1 0 8.2 0a4.1 4.1 0 1 0-8.2 0M1005.5 891.0a4.1 4.1 0 1 0 8.2 0a4.1 4.1 0 1 0-8.2 0M1017.4 891.4a4.1 4.1 0 1 0 8.2 0a4.1 4.1 0 1 0-8.2 0M1029.4 898.7a4.1 4.1 0 1 0 8.2 0a4.1 4.1 0 1 0-8.2 0M945.7 900.6a4.1 4.1 0 1 0 8.2 0a4.1 4.1 0 1 0-8.2 0M981.5 901.5a4.1 4.1 0 1 0 8.2 0a4.1 4.1 0 1 0-8.2 0M993.5 901.5a4.1 4.1 0 1 0 8.2 0a4.1 4.1 0 1 0-8.2 0M969.6 904.1a4.1 4.1 0 1 0 8.2 0a4.1 4.1 0 1 0-8.2 0M957.6 905.9a4.1 4.1 0 1 0 8.2 0a4.1 4.1 0 1 0-8.2 0M1005.5 906.6a4.1 4.1 0 1 0 8.2 0a4.1 4.1 0 1 0-8.2 0M1017.4 906.6a4.1 4.1 0 1 0 8.2 0a4.1 4.1 0 1 0-8.2 0M945.7 909.5a4.1 4.1 0 1 0 8.2 0a4.1 4.1 0 1 0-8.2 0M1029.4 908.7a4.1 4.1 0 1 0 8.2 0a4.1 4.1 0 1 0-8.2 0M993.5 911.6a4.1 4.1 0 1 0 8.2 0a4.1 4.1 0 1 0-8.2 0M981.5 914.5a4.1 4.1 0 1 0 8.2 0a4.1 4.1 0 1 0-8.2 0M957.6 916.7a4.1 4.1 0 1 0 8.2 0a4.1 4.1 0 1 0-8.2 0M1005.5 916.7a4.1 4.1 0 1 0 8.2 0a4.1 4.1 0 1 0-8.2 0M945.7 920.3a4.1 4.1 0 1 0 8.2 0a4.1 4.1 0 1 0-8.2 0M969.6 919.7a4.1 4.1 0 1 0 8.2 0a4.1 4.1 0 1 0-8.2 0M993.5 921.0a4.1 4.1 0 1 0 8.2 0a4.1 4.1 0 1 0-8.2 0M1017.4 921.6a4.1 4.1 0 1 0 8.2 0a4.1 4.1 0 1 0-8.2 0M981.5 924.1a4.1 4.1 0 1 0 8.2 0a4.1 4.1 0 1 0-8.2 0M1005.5 927.9a4.1 4.1 0 1 0 8.2 0a4.1 4.1 0 1 0-8.2 0M981.5 935.5a4.1 4.1 0 1 0 8.2 0a4.1 4.1 0 1 0-8.2 0M933.7 936.8a4.1 4.1 0 1 0 8.2 0a4.1 4.1 0 1 0-8.2 0M945.7 937.7a4.1 4.1 0 1 0 8.2 0a4.1 4.1 0 1 0-8.2 0M957.6 938.7a4.1 4.1 0 1 0 8.2 0a4.1 4.1 0 1 0-8.2 0M993.5 937.1a4.1 4.1 0 1 0 8.2 0a4.1 4.1 0 1 0-8.2 0M1029.4 936.4a4.1 4.1 0 1 0 8.2 0a4.1 4.1 0 1 0-8.2 0M1041.3 937.4a4.1 4.1 0 1 0 8.2 0a4.1 4.1 0 1 0-8.2 0M1005.5 939.3a4.1 4.1 0 1 0 8.2 0a4.1 4.1 0 1 0-8.2 0M1017.4 943.3a4.1 4.1 0 1 0 8.2 0a4.1 4.1 0 1 0-8.2 0M957.6 946.9a4.1 4.1 0 1 0 8.2 0a4.1 4.1 0 1 0-8.2 0M981.5 946.3a4.1 4.1 0 1 0 8.2 0a4.1 4.1 0 1 0-8.2 0M993.5 946.0a4.1 4.1 0 1 0 8.2 0a4.1 4.1 0 1 0-8.2 0M969.6 952.8a4.1 4.1 0 1 0 8.2 0a4.1 4.1 0 1 0-8.2 0M1017.4 953.8a4.1 4.1 0 1 0 8.2 0a4.1 4.1 0 1 0-8.2 0M957.6 956.0a4.1 4.1 0 1 0 8.2 0a4.1 4.1 0 1 0-8.2 0M981.5 959.2a4.1 4.1 0 1 0 8.2 0a4.1 4.1 0 1 0-8.2 0M1005.5 958.3a4.1 4.1 0 1 0 8.2 0a4.1 4.1 0 1 0-8.2 0M969.6 963.3a4.1 4.1 0 1 0 8.2 0a4.1 4.1 0 1 0-8.2 0M933.7 967.1a4.1 4.1 0 1 0 8.2 0a4.1 4.1 0 1 0-8.2 0M945.7 966.2a4.1 4.1 0 1 0 8.2 0a4.1 4.1 0 1 0-8.2 0M1005.5 966.5a4.1 4.1 0 1 0 8.2 0a4.1 4.1 0 1 0-8.2 0M993.5 968.4a4.1 4.1 0 1 0 8.2 0a4.1 4.1 0 1 0-8.2 0M957.6 969.0a4.1 4.1 0 1 0 8.2 0a4.1 4.1 0 1 0-8.2 0M1017.4 971.6a4.1 4.1 0 1 0 8.2 0a4.1 4.1 0 1 0-8.2 0M969.6 972.6a4.1 4.1 0 1 0 8.2 0a4.1 4.1 0 1 0-8.2 0M1029.4 972.6a4.1 4.1 0 1 0 8.2 0a4.1 4.1 0 1 0-8.2 0M981.5 974.7a4.1 4.1 0 1 0 8.2 0a4.1 4.1 0 1 0-8.2 0M933.7 977.2a4.1 4.1 0 1 0 8.2 0a4.1 4.1 0 1 0-8.2 0M945.7 977.6a4.1 4.1 0 1 0 8.2 0a4.1 4.1 0 1 0-8.2 0M957.6 977.9a4.1 4.1 0 1 0 8.2 0a4.1 4.1 0 1 0-8.2 0M993.5 978.5a4.1 4.1 0 1 0 8.2 0a4.1 4.1 0 1 0-8.2 0M1005.5 976.6a4.1 4.1 0 1 0 8.2 0a4.1 4.1 0 1 0-8.2 0M1041.3 977.2a4.1 4.1 0 1 0 8.2 0a4.1 4.1 0 1 0-8.2 0M1017.4 981.3a4.1 4.1 0 1 0 8.2 0a4.1 4.1 0 1 0-8.2 0M1029.4 984.2a4.1 4.1 0 1 0 8.2 0a4.1 4.1 0 1 0-8.2 0M945.7 986.1a4.1 4.1 0 1 0 8.2 0a4.1 4.1 0 1 0-8.2 0M957.6 986.1a4.1 4.1 0 1 0 8.2 0a4.1 4.1 0 1 0-8.2 0M1005.5 987.4a4.1 4.1 0 1 0 8.2 0a4.1 4.1 0 1 0-8.2 0M969.6 989.9a4.1 4.1 0 1 0 8.2 0a4.1 4.1 0 1 0-8.2 0M981.5 989.9a4.1 4.1 0 1 0 8.2 0a4.1 4.1 0 1 0-8.2 0M993.5 990.5a4.1 4.1 0 1 0 8.2 0a4.1 4.1 0 1 0-8.2 0M1017.4 992.4a4.1 4.1 0 1 0 8.2 0a4.1 4.1 0 1 0-8.2 0M957.6 994.3a4.1 4.1 0 1 0 8.2 0a4.1 4.1 0 1 0-8.2 0M1005.5 997.5a4.1 4.1 0 1 0 8.2 0a4.1 4.1 0 1 0-8.2 0M981.5 999.4a4.1 4.1 0 1 0 8.2 0a4.1 4.1 0 1 0-8.2 0M993.5 1000.0a4.1 4.1 0 1 0 8.2 0a4.1 4.1 0 1 0-8.2 0M1017.4 1001.9a4.1 4.1 0 1 0 8.2 0a4.1 4.1 0 1 0-8.2 0M1029.4 1004.2a4.1 4.1 0 1 0 8.2 0a4.1 4.1 0 1 0-8.2 0M1005.5 1005.7a4.1 4.1 0 1 0 8.2 0a4.1 4.1 0 1 0-8.2 0M945.7 1007.0a4.1 4.1 0 1 0 8.2 0a4.1 4.1 0 1 0-8.2 0M969.6 1007.0a4.1 4.1 0 1 0 8.2 0a4.1 4.1 0 1 0-8.2 0M993.5 1010.1a4.1 4.1 0 1 0 8.2 0a4.1 4.1 0 1 0-8.2 0M1017.4 1010.1a4.1 4.1 0 1 0 8.2 0a4.1 4.1 0 1 0-8.2 0M933.7 1011.4a4.1 4.1 0 1 0 8.2 0a4.1 4.1 0 1 0-8.2 0M1041.3 1010.8a4.1 4.1 0 1 0 8.2 0a4.1 4.1 0 1 0-8.2 0M957.6 1013.0a4.1 4.1 0 1 0 8.2 0a4.1 4.1 0 1 0-8.2 0M981.5 1012.7a4.1 4.1 0 1 0 8.2 0a4.1 4.1 0 1 0-8.2 0M1029.4 1013.3a4.1 4.1 0 1 0 8.2 0a4.1 4.1 0 1 0-8.2 0M1005.5 1013.9a4.1 4.1 0 1 0 8.2 0a4.1 4.1 0 1 0-8.2 0M969.6 1015.8a4.1 4.1 0 1 0 8.2 0a4.1 4.1 0 1 0-8.2 0M993.5 1019.0a4.1 4.1 0 1 0 8.2 0a4.1 4.1 0 1 0-8.2 0M1017.4 1020.3a4.1 4.1 0 1 0 8.2 0a4.1 4.1 0 1 0-8.2 0M945.7 1021.9a4.1 4.1 0 1 0 8.2 0a4.1 4.1 0 1 0-8.2 0M981.5 1030.3a4.1 4.1 0 1 0 8.2 0a4.1 4.1 0 1 0-8.2 0M993.5 1031.8a4.1 4.1 0 1 0 8.2 0a4.1 4.1 0 1 0-8.2 0M1005.5 1029.6a4.1 4.1 0 1 0 8.2 0a4.1 4.1 0 1 0-8.2 0M1017.4 1028.7a4.1 4.1 0 1 0 8.2 0a4.1 4.1 0 1 0-8.2 0M1029.4 1028.4a4.1 4.1 0 1 0 8.2 0a4.1 4.1 0 1 0-8.2 0M945.7 1034.7a4.1 4.1 0 1 0 8.2 0a4.1 4.1 0 1 0-8.2 0M969.6 1034.7a4.1 4.1 0 1 0 8.2 0a4.1 4.1 0 1 0-8.2 0M1017.4 1037.2a4.1 4.1 0 1 0 8.2 0a4.1 4.1 0 1 0-8.2 0M1029.4 1036.8a4.1 4.1 0 1 0 8.2 0a4.1 4.1 0 1 0-8.2 0M981.5 1039.7a4.1 4.1 0 1 0 8.2 0a4.1 4.1 0 1 0-8.2 0M957.6 1042.0a4.1 4.1 0 1 0 8.2 0a4.1 4.1 0 1 0-8.2 0M945.7 1043.5a4.1 4.1 0 1 0 8.2 0a4.1 4.1 0 1 0-8.2 0M993.5 1046.3a4.1 4.1 0 1 0 8.2 0a4.1 4.1 0 1 0-8.2 0M1005.5 1046.3a4.1 4.1 0 1 0 8.2 0a4.1 4.1 0 1 0-8.2 0M1017.4 1046.1a4.1 4.1 0 1 0 8.2 0a4.1 4.1 0 1 0-8.2 0M969.6 1047.6a4.1 4.1 0 1 0 8.2 0a4.1 4.1 0 1 0-8.2 0M981.5 1053.7a4.1 4.1 0 1 0 8.2 0a4.1 4.1 0 1 0-8.2 0M993.5 1054.9a4.1 4.1 0 1 0 8.2 0a4.1 4.1 0 1 0-8.2 0M981.5 1071.1a4.1 4.1 0 1 0 8.2 0a4.1 4.1 0 1 0-8.2 0M993.5 1071.1a4.1 4.1 0 1 0 8.2 0a4.1 4.1 0 1 0-8.2 0M987.5 1093.8a4.1 4.1 0 1 0 8.2 0a4.1 4.1 0 1 0-8.2 0" fill="#262626"/>
<g stroke="#262626" stroke-width="2.1" fill="none">
<rect x="1109.30" y="904.02" width="114.00" height="92.75" fill="#cfd5f7"/>
<path d="M1109.30 961.00H1223.30M1166.1 904.02V766.81M1166.1 996.77V1070.53M1136.40 766.81H1195.80M1136.40 1070.53H1195.80"/>
</g>
<path d="M1155.8 760.6l5.6 11.2h-11.2zM1176.5 771.4l5.6 11.2h-11.2zM1155.8 782.5l5.6 11.2h-11.2zM1166.1 802.4l5.6 11.2h-11.2zM1176.5 815.7l5.6 11.2h-11.2zM1186.9 818.2l5.6 11.2h-11.2zM1145.4 820.4l5.6 11.2h-11.2zM1166.1 826.4l5.6 11.2h-11.2zM1176.5 829.6l5.6 11.2h-11.2zM1155.8 830.6l5.6 11.2h-11.2zM1166.1 841.0l5.6 11.2h-11.2zM1176.5 845.4l5.6 11.2h-11.2zM1197.3 848.8l5.6 11.2h-11.2zM1135.0 854.9l5.6 11.2h-11.2zM1166.1 857.4l5.6 11.2h-11.2zM1145.4 863.5l5.6 11.2h-11.2zM1155.8 863.5l5.6 11.2h-11.2zM1176.5 863.5l5.6 11.2h-11.2zM1186.9 864.0l5.6 11.2h-11.2zM1155.8 878.7l5.6 11.2h-11.2zM1166.1 881.5l5.6 11.2h-11.2zM1176.5 887.2l5.6 11.2h-11.2zM1145.4 894.9l5.6 11.2h-11.2zM1155.8 896.5l5.6 11.2h-11.2zM1166.1 897.7l5.6 11.2h-11.2zM1186.9 904.1l5.6 11.2h-11.2zM1176.5 907.6l5.6 11.2h-11.2zM1197.3 906.8l5.6 11.2h-11.2zM1124.6 914.4l5.6 11.2h-11.2zM1207.7 914.4l5.6 11.2h-11.2zM1155.8 915.2l5.6 11.2h-11.2zM1186.9 918.6l5.6 11.2h-11.2zM1145.4 922.8l5.6 11.2h-11.2zM1176.5 922.4l5.6 11.2h-11.2zM1197.3 922.4l5.6 11.2h-11.2zM1166.1 924.0l5.6 11.2h-11.2zM1135.0 927.5l5.6 11.2h-11.2zM1124.6 928.7l5.6 11.2h-11.2zM1207.7 926.8l5.6 11.2h-11.2zM1155.8 931.3l5.6 11.2h-11.2zM1176.5 934.7l5.6 11.2h-11.2zM1166.1 936.9l5.6 11.2h-11.2zM1135.0 949.0l5.6 11.2h-11.2zM1145.4 948.3l5.6 11.2h-11.2zM1176.5 949.8l5.6 11.2h-11.2zM1186.9 951.9l5.6 11.2h-11.2zM1124.6 954.0l5.6 11.2h-11.2zM1166.1 954.4l5.6 11.2h-11.2zM1155.8 956.6l5.6 11.2h-11.2zM1207.7 958.5l5.6 11.2h-11.2zM1135.0 962.5l5.6 11.2h-11.2zM1145.4 963.3l5.6 11.2h-11.2zM1186.9 965.8l5.6 11.2h-11.2zM1166.1 967.3l5.6 11.2h-11.2zM1176.5 967.3l5.6 11.2h-11.2zM1124.6 970.5l5.6 11.2h-11.2zM1155.8 971.1l5.6 11.2h-11.2zM1207.7 973.6l5.6 11.2h-11.2zM1114.2 977.2l5.6 11.2h-11.2zM1218.1 978.1l5.6 11.2h-11.2zM1135.0 978.7l5.6 11.2h-11.2zM1145.4 979.7l5.6 11.2h-11.2zM1176.5 979.7l5.6 11.2h-11.2zM1186.9 978.7l5.6 11.2h-11.2zM1197.3 981.5l5.6 11.2h-11.2zM1166.1 984.4l5.6 11.2h-11.2zM1155.8 985.7l5.6 11.2h-11.2zM1207.7 986.3l5.6 11.2h-11.2zM1124.6 989.4l5.6 11.2h-11.2zM1114.2 990.7l5.6 11.2h-11.2zM1218.1 990.1l5.6 11.2h-11.2zM1145.4 992.0l5.6 11.2h-11.2zM1176.5 992.6l5.6 11.2h-11.2zM1186.9 994.5l5.6 11.2h-11.2zM1197.3 996.4l5.6 11.2h-11.2zM1155.8 997.7l5.6 11.2h-11.2zM1124.6 1002.6l5.6 11.2h-11.2zM1207.7 1003.2l5.6 11.2h-11.2zM1176.5 1006.4l5.6 11.2h-11.2zM1145.4 1010.0l5.6 11.2h-11.2zM1135.0 1011.5l5.6 11.2h-11.2zM1166.1 1010.8l5.6 11.2h-11.2zM1186.9 1010.8l5.6 11.2h-11.2zM1197.3 1012.5l5.6 11.2h-11.2zM1155.8 1013.4l5.6 11.2h-11.2zM1176.5 1021.0l5.6 11.2h-11.2zM1145.4 1022.2l5.6 11.2h-11.2zM1166.1 1023.5l5.6 11.2h-11.2zM1186.9 1026.6l5.6 11.2h-11.2zM1155.8 1032.3l5.6 11.2h-11.2zM1145.4 1043.7l5.6 11.2h-11.2zM1166.1 1044.4l5.6 11.2h-11.2zM1176.5 1044.4l5.6 11.2h-11.2zM1186.9 1043.7l5.6 11.2h-11.2zM1171.3 1058.9l5.6 11.2h-11.2zM1161.0 1065.2l5.6 11.2h-11.2z" fill="#1236fb"/>
<path d="M875.8 715.40V1128.40M873.80 1126.4H1283.0" fill="none" stroke="#000" stroke-width="4.0"/>
<line x1="858.50" y1="1126.40" x2="875.8" y2="1126.40" stroke="#000" stroke-width="4.0"/>
<text class="b" transform="translate(855.80 1138.90) scale(1 1.045)" font-size="32.5" text-anchor="end"><tspan letter-spacing="0.8">2×10</tspan><tspan font-size="23.5" dx="0.4" dy="-10.2">-5</tspan></text>
<line x1="858.50" y1="1024.15" x2="875.8" y2="1024.15" stroke="#000" stroke-width="4.0"/>
<text class="b" transform="translate(855.80 1036.65) scale(1 1.045)" font-size="32.5" text-anchor="end"><tspan letter-spacing="0.8">4×10</tspan><tspan font-size="23.5" dx="0.4" dy="-10.2">-5</tspan></text>
<line x1="858.50" y1="921.90" x2="875.8" y2="921.90" stroke="#000" stroke-width="4.0"/>
<text class="b" transform="translate(855.80 934.40) scale(1 1.045)" font-size="32.5" text-anchor="end"><tspan letter-spacing="0.8">6×10</tspan><tspan font-size="23.5" dx="0.4" dy="-10.2">-5</tspan></text>
<line x1="858.50" y1="819.65" x2="875.8" y2="819.65" stroke="#000" stroke-width="4.0"/>
<text class="b" transform="translate(855.80 832.15) scale(1 1.045)" font-size="32.5" text-anchor="end"><tspan letter-spacing="0.8">8×10</tspan><tspan font-size="23.5" dx="0.4" dy="-10.2">-5</tspan></text>
<line x1="858.50" y1="717.40" x2="875.8" y2="717.40" stroke="#000" stroke-width="4.0"/>
<text class="b" transform="translate(855.80 729.90) scale(1 1.045)" font-size="32.5" text-anchor="end"><tspan letter-spacing="0.8">1×10</tspan><tspan font-size="23.5" dx="0.4" dy="-10.2">-4</tspan></text>
<line x1="991.6" y1="1126.4" x2="991.6" y2="1143.70" stroke="#000" stroke-width="4.0"/>
<text class="bx" transform="matrix(0.3078 0 0 0.2973 915.97 1174.40)" font-size="100" font-weight="bold" stroke-width="1.98">RAW264.7</text>
<line x1="1166.1" y1="1126.4" x2="1166.1" y2="1143.70" stroke="#000" stroke-width="4.0"/>
<text class="bx" transform="matrix(0.3109 0 0 0.3016 1128.23 1174.40)" font-size="100" font-weight="bold" stroke-width="1.96">BMM</text>
<text class="bx" transform="translate(713.20 1133.04) rotate(-90) scale(0.3299 0.3455)" font-size="100" font-weight="bold" stroke-width="1.78">Mean NAD(P)H Signal (a.u.)</text>
<text class="pl" stroke-width="1.7"><tspan x="675.57" y="684.51" font-size="46.84" textLength="15.46" lengthAdjust="spacingAndGlyphs">(</tspan><tspan x="690.08" y="684.14" font-size="41.09" textLength="20.47" lengthAdjust="spacingAndGlyphs">e</tspan><tspan x="710.32" y="684.51" font-size="46.84" textLength="15.46" lengthAdjust="spacingAndGlyphs">)</tspan></text>
<path d="M988.0 720.2H1166.1M988.0 710.3000000000001v19.8M1166.1 710.3000000000001v19.8" stroke="#262626" stroke-width="2.1" fill="none"/>
<text class="sg" x="1080.75" y="711.90" font-size="31" text-anchor="middle">ns</text>
<g stroke="#262626" stroke-width="2.1" fill="none">
<rect x="1603.20" y="902.70" width="114.40" height="79.00" fill="#e9e9e9"/>
<path d="M1603.20 944.80H1717.60M1659.9 902.70V771.50M1659.9 981.70V1060.20M1630.20 771.50H1689.60M1630.20 1060.20H1689.60"/>
</g>
<path d="M1655.9 771.5a4.1 4.1 0 1 0 8.2 0a4.1 4.1 0 1 0-8.2 0M1650.9 800.7a4.1 4.1 0 1 0 8.2 0a4.1 4.1 0 1 0-8.2 0M1660.8 800.3a4.1 4.1 0 1 0 8.2 0a4.1 4.1 0 1 0-8.2 0M1660.8 821.0a4.1 4.1 0 1 0 8.2 0a4.1 4.1 0 1 0-8.2 0M1670.6 827.0a4.1 4.1 0 1 0 8.2 0a4.1 4.1 0 1 0-8.2 0M1660.8 832.2a4.1 4.1 0 1 0 8.2 0a4.1 4.1 0 1 0-8.2 0M1650.9 833.9a4.1 4.1 0 1 0 8.2 0a4.1 4.1 0 1 0-8.2 0M1670.6 840.1a4.1 4.1 0 1 0 8.2 0a4.1 4.1 0 1 0-8.2 0M1660.8 841.4a4.1 4.1 0 1 0 8.2 0a4.1 4.1 0 1 0-8.2 0M1650.9 845.8a4.1 4.1 0 1 0 8.2 0a4.1 4.1 0 1 0-8.2 0M1641.1 854.8a4.1 4.1 0 1 0 8.2 0a4.1 4.1 0 1 0-8.2 0M1621.4 863.7a4.1 4.1 0 1 0 8.2 0a4.1 4.1 0 1 0-8.2 0M1680.5 862.4a4.1 4.1 0 1 0 8.2 0a4.1 4.1 0 1 0-8.2 0M1690.3 864.2a4.1 4.1 0 1 0 8.2 0a4.1 4.1 0 1 0-8.2 0M1650.9 865.8a4.1 4.1 0 1 0 8.2 0a4.1 4.1 0 1 0-8.2 0M1660.8 866.7a4.1 4.1 0 1 0 8.2 0a4.1 4.1 0 1 0-8.2 0M1670.6 867.0a4.1 4.1 0 1 0 8.2 0a4.1 4.1 0 1 0-8.2 0M1641.1 869.6a4.1 4.1 0 1 0 8.2 0a4.1 4.1 0 1 0-8.2 0M1650.9 877.1a4.1 4.1 0 1 0 8.2 0a4.1 4.1 0 1 0-8.2 0M1670.6 877.1a4.1 4.1 0 1 0 8.2 0a4.1 4.1 0 1 0-8.2 0M1641.1 879.2a4.1 4.1 0 1 0 8.2 0a4.1 4.1 0 1 0-8.2 0M1680.5 885.2a4.1 4.1 0 1 0 8.2 0a4.1 4.1 0 1 0-8.2 0M1641.1 888.7a4.1 4.1 0 1 0 8.2 0a4.1 4.1 0 1 0-8.2 0M1660.8 892.5a4.1 4.1 0 1 0 8.2 0a4.1 4.1 0 1 0-8.2 0M1631.2 894.6a4.1 4.1 0 1 0 8.2 0a4.1 4.1 0 1 0-8.2 0M1621.4 897.1a4.1 4.1 0 1 0 8.2 0a4.1 4.1 0 1 0-8.2 0M1670.6 895.8a4.1 4.1 0 1 0 8.2 0a4.1 4.1 0 1 0-8.2 0M1680.5 896.2a4.1 4.1 0 1 0 8.2 0a4.1 4.1 0 1 0-8.2 0M1690.3 896.5a4.1 4.1 0 1 0 8.2 0a4.1 4.1 0 1 0-8.2 0M1641.1 900.9a4.1 4.1 0 1 0 8.2 0a4.1 4.1 0 1 0-8.2 0M1660.8 901.5a4.1 4.1 0 1 0 8.2 0a4.1 4.1 0 1 0-8.2 0M1650.9 905.1a4.1 4.1 0 1 0 8.2 0a4.1 4.1 0 1 0-8.2 0M1670.6 905.7a4.1 4.1 0 1 0 8.2 0a4.1 4.1 0 1 0-8.2 0M1621.4 907.3a4.1 4.1 0 1 0 8.2 0a4.1 4.1 0 1 0-8.2 0M1631.2 907.6a4.1 4.1 0 1 0 8.2 0a4.1 4.1 0 1 0-8.2 0M1680.5 907.6a4.1 4.1 0 1 0 8.2 0a4.1 4.1 0 1 0-8.2 0M1660.8 911.9a4.1 4.1 0 1 0 8.2 0a4.1 4.1 0 1 0-8.2 0M1670.6 914.4a4.1 4.1 0 1 0 8.2 0a4.1 4.1 0 1 0-8.2 0M1650.9 914.7a4.1 4.1 0 1 0 8.2 0a4.1 4.1 0 1 0-8.2 0M1641.1 915.7a4.1 4.1 0 1 0 8.2 0a4.1 4.1 0 1 0-8.2 0M1690.3 915.3a4.1 4.1 0 1 0 8.2 0a4.1 4.1 0 1 0-8.2 0M1611.5 918.8a4.1 4.1 0 1 0 8.2 0a4.1 4.1 0 1 0-8.2 0M1631.2 919.1a4.1 4.1 0 1 0 8.2 0a4.1 4.1 0 1 0-8.2 0M1621.4 922.3a4.1 4.1 0 1 0 8.2 0a4.1 4.1 0 1 0-8.2 0M1680.5 922.3a4.1 4.1 0 1 0 8.2 0a4.1 4.1 0 1 0-8.2 0M1641.1 923.8a4.1 4.1 0 1 0 8.2 0a4.1 4.1 0 1 0-8.2 0M1650.9 923.8a4.1 4.1 0 1 0 8.2 0a4.1 4.1 0 1 0-8.2 0M1660.8 924.1a4.1 4.1 0 1 0 8.2 0a4.1 4.1 0 1 0-8.2 0M1670.6 924.5a4.1 4.1 0 1 0 8.2 0a4.1 4.1 0 1 0-8.2 0M1700.2 925.1a4.1 4.1 0 1 0 8.2 0a4.1 4.1 0 1 0-8.2 0M1690.3 926.6a4.1 4.1 0 1 0 8.2 0a4.1 4.1 0 1 0-8.2 0M1611.5 928.6a4.1 4.1 0 1 0 8.2 0a4.1 4.1 0 1 0-8.2 0M1631.2 928.2a4.1 4.1 0 1 0 8.2 0a4.1 4.1 0 1 0-8.2 0M1621.4 931.1a4.1 4.1 0 1 0 8.2 0a4.1 4.1 0 1 0-8.2 0M1660.8 932.0a4.1 4.1 0 1 0 8.2 0a4.1 4.1 0 1 0-8.2 0M1650.9 937.0a4.1 4.1 0 1 0 8.2 0a4.1 4.1 0 1 0-8.2 0M1631.2 938.2a4.1 4.1 0 1 0 8.2 0a4.1 4.1 0 1 0-8.2 0M1680.5 938.6a4.1 4.1 0 1 0 8.2 0a4.1 4.1 0 1 0-8.2 0M1641.1 940.1a4.1 4.1 0 1 0 8.2 0a4.1 4.1 0 1 0-8.2 0M1621.4 944.5a4.1 4.1 0 1 0 8.2 0a4.1 4.1 0 1 0-8.2 0M1660.8 943.9a4.1 4.1 0 1 0 8.2 0a4.1 4.1 0 1 0-8.2 0M1670.6 945.4a4.1 4.1 0 1 0 8.2 0a4.1 4.1 0 1 0-8.2 0M1690.3 945.1a4.1 4.1 0 1 0 8.2 0a4.1 4.1 0 1 0-8.2 0M1650.9 946.4a4.1 4.1 0 1 0 8.2 0a4.1 4.1 0 1 0-8.2 0M1631.2 947.4a4.1 4.1 0 1 0 8.2 0a4.1 4.1 0 1 0-8.2 0M1680.5 950.8a4.1 4.1 0 1 0 8.2 0a4.1 4.1 0 1 0-8.2 0M1641.1 951.6a4.1 4.1 0 1 0 8.2 0a4.1 4.1 0 1 0-8.2 0M1650.9 954.5a4.1 4.1 0 1 0 8.2 0a4.1 4.1 0 1 0-8.2 0M1670.6 955.8a4.1 4.1 0 1 0 8.2 0a4.1 4.1 0 1 0-8.2 0M1690.3 957.6a4.1 4.1 0 1 0 8.2 0a4.1 4.1 0 1 0-8.2 0M1660.8 960.1a4.1 4.1 0 1 0 8.2 0a4.1 4.1 0 1 0-8.2 0M1680.5 959.5a4.1 4.1 0 1 0 8.2 0a4.1 4.1 0 1 0-8.2 0M1641.1 963.7a4.1 4.1 0 1 0 8.2 0a4.1 4.1 0 1 0-8.2 0M1670.6 963.9a4.1 4.1 0 1 0 8.2 0a4.1 4.1 0 1 0-8.2 0M1690.3 966.2a4.1 4.1 0 1 0 8.2 0a4.1 4.1 0 1 0-8.2 0M1621.4 966.7a4.1 4.1 0 1 0 8.2 0a4.1 4.1 0 1 0-8.2 0M1601.7 968.9a4.1 4.1 0 1 0 8.2 0a4.1 4.1 0 1 0-8.2 0M1631.2 969.2a4.1 4.1 0 1 0 8.2 0a4.1 4.1 0 1 0-8.2 0M1660.8 968.9a4.1 4.1 0 1 0 8.2 0a4.1 4.1 0 1 0-8.2 0M1680.5 968.3a4.1 4.1 0 1 0 8.2 0a4.1 4.1 0 1 0-8.2 0M1700.2 968.9a4.1 4.1 0 1 0 8.2 0a4.1 4.1 0 1 0-8.2 0M1710.0 970.2a4.1 4.1 0 1 0 8.2 0a4.1 4.1 0 1 0-8.2 0M1650.9 971.4a4.1 4.1 0 1 0 8.2 0a4.1 4.1 0 1 0-8.2 0M1670.6 972.0a4.1 4.1 0 1 0 8.2 0a4.1 4.1 0 1 0-8.2 0M1611.5 972.9a4.1 4.1 0 1 0 8.2 0a4.1 4.1 0 1 0-8.2 0M1641.1 972.7a4.1 4.1 0 1 0 8.2 0a4.1 4.1 0 1 0-8.2 0M1621.4 976.2a4.1 4.1 0 1 0 8.2 0a4.1 4.1 0 1 0-8.2 0M1690.3 976.4a4.1 4.1 0 1 0 8.2 0a4.1 4.1 0 1 0-8.2 0M1660.8 978.9a4.1 4.1 0 1 0 8.2 0a4.1 4.1 0 1 0-8.2 0M1680.5 979.9a4.1 4.1 0 1 0 8.2 0a4.1 4.1 0 1 0-8.2 0M1641.1 981.2a4.1 4.1 0 1 0 8.2 0a4.1 4.1 0 1 0-8.2 0M1611.5 983.7a4.1 4.1 0 1 0 8.2 0a4.1 4.1 0 1 0-8.2 0M1631.2 984.2a4.1 4.1 0 1 0 8.2 0a4.1 4.1 0 1 0-8.2 0M1650.9 983.7a4.1 4.1 0 1 0 8.2 0a4.1 4.1 0 1 0-8.2 0M1700.2 983.3a4.1 4.1 0 1 0 8.2 0a4.1 4.1 0 1 0-8.2 0M1670.6 986.2a4.1 4.1 0 1 0 8.2 0a4.1 4.1 0 1 0-8.2 0M1690.3 986.4a4.1 4.1 0 1 0 8.2 0a4.1 4.1 0 1 0-8.2 0M1650.9 991.7a4.1 4.1 0 1 0 8.2 0a4.1 4.1 0 1 0-8.2 0M1660.8 992.1a4.1 4.1 0 1 0 8.2 0a4.1 4.1 0 1 0-8.2 0M1631.2 1000.5a4.1 4.1 0 1 0 8.2 0a4.1 4.1 0 1 0-8.2 0M1650.9 1000.5a4.1 4.1 0 1 0 8.2 0a4.1 4.1 0 1 0-8.2 0M1660.8 1000.8a4.1 4.1 0 1 0 8.2 0a4.1 4.1 0 1 0-8.2 0M1641.1 1003.0a4.1 4.1 0 1 0 8.2 0a4.1 4.1 0 1 0-8.2 0M1670.6 1002.5a4.1 4.1 0 1 0 8.2 0a4.1 4.1 0 1 0-8.2 0M1631.2 1009.1a4.1 4.1 0 1 0 8.2 0a4.1 4.1 0 1 0-8.2 0M1650.9 1009.1a4.1 4.1 0 1 0 8.2 0a4.1 4.1 0 1 0-8.2 0M1660.8 1010.1a4.1 4.1 0 1 0 8.2 0a4.1 4.1 0 1 0-8.2 0M1670.6 1010.4a4.1 4.1 0 1 0 8.2 0a4.1 4.1 0 1 0-8.2 0M1641.1 1012.6a4.1 4.1 0 1 0 8.2 0a4.1 4.1 0 1 0-8.2 0M1690.3 1013.6a4.1 4.1 0 1 0 8.2 0a4.1 4.1 0 1 0-8.2 0M1700.2 1019.1a4.1 4.1 0 1 0 8.2 0a4.1 4.1 0 1 0-8.2 0M1650.9 1019.5a4.1 4.1 0 1 0 8.2 0a4.1 4.1 0 1 0-8.2 0M1660.8 1019.9a4.1 4.1 0 1 0 8.2 0a4.1 4.1 0 1 0-8.2 0M1670.6 1019.5a4.1 4.1 0 1 0 8.2 0a4.1 4.1 0 1 0-8.2 0M1621.4 1022.9a4.1 4.1 0 1 0 8.2 0a4.1 4.1 0 1 0-8.2 0M1641.1 1023.7a4.1 4.1 0 1 0 8.2 0a4.1 4.1 0 1 0-8.2 0M1631.2 1027.4a4.1 4.1 0 1 0 8.2 0a4.1 4.1 0 1 0-8.2 0M1680.5 1026.7a4.1 4.1 0 1 0 8.2 0a4.1 4.1 0 1 0-8.2 0M1690.3 1025.8a4.1 4.1 0 1 0 8.2 0a4.1 4.1 0 1 0-8.2 0M1650.9 1030.8a4.1 4.1 0 1 0 8.2 0a4.1 4.1 0 1 0-8.2 0M1660.8 1030.4a4.1 4.1 0 1 0 8.2 0a4.1 4.1 0 1 0-8.2 0M1670.6 1031.2a4.1 4.1 0 1 0 8.2 0a4.1 4.1 0 1 0-8.2 0M1655.9 1060.0a4.1 4.1 0 1 0 8.2 0a4.1 4.1 0 1 0-8.2 0" fill="#262626"/>
<g stroke="#262626" stroke-width="2.1" fill="none">
<rect x="1777.60" y="891.50" width="114.40" height="78.50" fill="#cfd5f7"/>
<path d="M1777.60 932.60H1892.00M1834.7 891.50V782.50M1834.7 970.00V1051.50M1805.00 782.50H1864.40M1805.00 1051.50H1864.40"/>
</g>
<path d="M1825.6 776.3l5.6 11.2h-11.2zM1831.7 781.4l5.6 11.2h-11.2zM1837.8 783.9l5.6 11.2h-11.2zM1843.9 784.2l5.6 11.2h-11.2zM1819.5 797.0l5.6 11.2h-11.2zM1825.6 800.1l5.6 11.2h-11.2zM1837.8 799.5l5.6 11.2h-11.2zM1850.0 798.9l5.6 11.2h-11.2zM1831.7 807.0l5.6 11.2h-11.2zM1825.6 818.9l5.6 11.2h-11.2zM1831.7 826.4l5.6 11.2h-11.2zM1843.9 827.1l5.6 11.2h-11.2zM1856.1 827.1l5.6 11.2h-11.2zM1813.4 832.7l5.6 11.2h-11.2zM1819.5 835.2l5.6 11.2h-11.2zM1850.0 835.8l5.6 11.2h-11.2zM1825.6 839.6l5.6 11.2h-11.2zM1831.7 838.9l5.6 11.2h-11.2zM1837.8 840.2l5.6 11.2h-11.2zM1819.5 850.8l5.6 11.2h-11.2zM1837.8 853.3l5.6 11.2h-11.2zM1843.9 855.2l5.6 11.2h-11.2zM1850.0 854.6l5.6 11.2h-11.2zM1825.6 864.0l5.6 11.2h-11.2zM1831.7 866.5l5.6 11.2h-11.2zM1837.8 869.6l5.6 11.2h-11.2zM1843.9 874.0l5.6 11.2h-11.2zM1850.0 874.0l5.6 11.2h-11.2zM1856.1 874.0l5.6 11.2h-11.2zM1819.5 877.8l5.6 11.2h-11.2zM1825.6 877.1l5.6 11.2h-11.2zM1831.7 882.8l5.6 11.2h-11.2zM1837.8 885.9l5.6 11.2h-11.2zM1843.9 888.4l5.6 11.2h-11.2zM1856.1 887.8l5.6 11.2h-11.2zM1825.6 890.3l5.6 11.2h-11.2zM1813.4 894.7l5.6 11.2h-11.2zM1819.5 895.3l5.6 11.2h-11.2zM1850.0 895.9l5.6 11.2h-11.2zM1831.7 898.4l5.6 11.2h-11.2zM1837.8 900.3l5.6 11.2h-11.2zM1807.3 902.6l5.6 11.2h-11.2zM1868.4 907.6l5.6 11.2h-11.2zM1880.6 907.0l5.6 11.2h-11.2zM1795.0 913.9l5.6 11.2h-11.2zM1801.2 912.0l5.6 11.2h-11.2zM1843.9 913.3l5.6 11.2h-11.2zM1856.1 913.3l5.6 11.2h-11.2zM1825.6 908.3l5.6 11.2h-11.2zM1813.4 913.3l5.6 11.2h-11.2zM1819.5 915.8l5.6 11.2h-11.2zM1862.3 915.8l5.6 11.2h-11.2zM1831.7 917.0l5.6 11.2h-11.2zM1850.0 917.0l5.6 11.2h-11.2zM1782.8 921.4l5.6 11.2h-11.2zM1788.9 922.7l5.6 11.2h-11.2zM1874.5 921.4l5.6 11.2h-11.2zM1886.7 922.0l5.6 11.2h-11.2zM1880.6 922.7l5.6 11.2h-11.2zM1807.3 922.0l5.6 11.2h-11.2zM1837.8 920.8l5.6 11.2h-11.2zM1795.0 925.2l5.6 11.2h-11.2zM1801.2 924.5l5.6 11.2h-11.2zM1819.5 925.2l5.6 11.2h-11.2zM1825.6 925.8l5.6 11.2h-11.2zM1831.7 924.5l5.6 11.2h-11.2zM1843.9 925.2l5.6 11.2h-11.2zM1850.0 925.2l5.6 11.2h-11.2zM1856.1 925.8l5.6 11.2h-11.2zM1862.3 927.0l5.6 11.2h-11.2zM1868.4 928.9l5.6 11.2h-11.2zM1795.0 933.3l5.6 11.2h-11.2zM1807.3 935.8l5.6 11.2h-11.2zM1825.6 935.2l5.6 11.2h-11.2zM1837.8 934.5l5.6 11.2h-11.2zM1874.5 933.3l5.6 11.2h-11.2zM1868.4 937.1l5.6 11.2h-11.2zM1813.4 939.6l5.6 11.2h-11.2zM1795.0 944.6l5.6 11.2h-11.2zM1807.3 949.6l5.6 11.2h-11.2zM1819.5 947.1l5.6 11.2h-11.2zM1831.7 944.6l5.6 11.2h-11.2zM1843.9 942.1l5.6 11.2h-11.2zM1850.0 943.3l5.6 11.2h-11.2zM1856.1 945.8l5.6 11.2h-11.2zM1862.3 947.1l5.6 11.2h-11.2zM1874.5 947.1l5.6 11.2h-11.2zM1868.4 954.6l5.6 11.2h-11.2zM1813.4 952.1l5.6 11.2h-11.2zM1825.6 953.3l5.6 11.2h-11.2zM1837.8 953.3l5.6 11.2h-11.2zM1843.9 955.8l5.6 11.2h-11.2zM1850.0 954.6l5.6 11.2h-11.2zM1795.0 958.3l5.6 11.2h-11.2zM1801.2 960.8l5.6 11.2h-11.2zM1807.3 959.6l5.6 11.2h-11.2zM1819.5 959.6l5.6 11.2h-11.2zM1831.7 960.8l5.6 11.2h-11.2zM1856.1 959.6l5.6 11.2h-11.2zM1862.3 958.3l5.6 11.2h-11.2zM1874.5 959.6l5.6 11.2h-11.2zM1813.4 967.1l5.6 11.2h-11.2zM1825.6 965.8l5.6 11.2h-11.2zM1837.8 967.1l5.6 11.2h-11.2zM1843.9 965.8l5.6 11.2h-11.2zM1850.0 967.1l5.6 11.2h-11.2zM1856.1 965.8l5.6 11.2h-11.2zM1862.3 967.1l5.6 11.2h-11.2zM1868.4 965.8l5.6 11.2h-11.2zM1807.3 968.6l5.6 11.2h-11.2zM1819.5 970.4l5.6 11.2h-11.2zM1844.0 970.4l5.6 11.2h-11.2zM1831.7 972.3l5.6 11.2h-11.2zM1801.2 976.4l5.6 11.2h-11.2zM1868.4 976.9l5.6 11.2h-11.2zM1856.2 977.8l5.6 11.2h-11.2zM1813.4 981.5l5.6 11.2h-11.2zM1825.6 979.6l5.6 11.2h-11.2zM1837.8 980.5l5.6 11.2h-11.2zM1850.1 983.3l5.6 11.2h-11.2zM1807.3 985.1l5.6 11.2h-11.2zM1819.5 987.0l5.6 11.2h-11.2zM1831.7 987.0l5.6 11.2h-11.2zM1844.0 992.5l5.6 11.2h-11.2zM1850.1 995.2l5.6 11.2h-11.2zM1837.8 996.2l5.6 11.2h-11.2zM1819.5 999.8l5.6 11.2h-11.2zM1825.6 1000.7l5.6 11.2h-11.2zM1831.7 998.9l5.6 11.2h-11.2zM1844.0 1002.6l5.6 11.2h-11.2zM1837.8 1007.2l5.6 11.2h-11.2zM1813.4 1012.7l5.6 11.2h-11.2zM1844.0 1013.6l5.6 11.2h-11.2zM1831.7 1014.5l5.6 11.2h-11.2zM1856.2 1016.4l5.6 11.2h-11.2zM1850.1 1019.1l5.6 11.2h-11.2zM1819.5 1021.9l5.6 11.2h-11.2zM1825.6 1023.7l5.6 11.2h-11.2zM1837.8 1023.7l5.6 11.2h-11.2zM1831.7 1030.1l5.6 11.2h-11.2zM1844.0 1032.9l5.6 11.2h-11.2zM1834.8 1047.6l5.6 11.2h-11.2zM1832.0 891.6l5.6 11.2h-11.2zM1862.0 974.8l5.6 11.2h-11.2zM1850.0 881.5l5.6 11.2h-11.2zM1826.0 992.0l5.6 11.2h-11.2zM1850.0 973.9l5.6 11.2h-11.2zM1819.0 885.7l5.6 11.2h-11.2zM1801.0 952.3l5.6 11.2h-11.2zM1850.0 933.5l5.6 11.2h-11.2z" fill="#1236fb"/>
<path d="M1544.3 715.10V1125.70M1542.30 1123.7H1951.3" fill="none" stroke="#000" stroke-width="4.0"/>
<line x1="1527.00" y1="1123.70" x2="1544.3" y2="1123.70" stroke="#000" stroke-width="4.0"/>
<text class="b" transform="translate(1524.30 1136.20) scale(1 1.045)" font-size="32.5" text-anchor="end"><tspan letter-spacing="0.8">2×10</tspan><tspan font-size="23.5" dx="0.4" dy="-10.2">-5</tspan></text>
<line x1="1527.00" y1="1022.05" x2="1544.3" y2="1022.05" stroke="#000" stroke-width="4.0"/>
<text class="b" transform="translate(1524.30 1034.55) scale(1 1.045)" font-size="32.5" text-anchor="end"><tspan letter-spacing="0.8">4×10</tspan><tspan font-size="23.5" dx="0.4" dy="-10.2">-5</tspan></text>
<line x1="1527.00" y1="920.40" x2="1544.3" y2="920.40" stroke="#000" stroke-width="4.0"/>
<text class="b" transform="translate(1524.30 932.90) scale(1 1.045)" font-size="32.5" text-anchor="end"><tspan letter-spacing="0.8">6×10</tspan><tspan font-size="23.5" dx="0.4" dy="-10.2">-5</tspan></text>
<line x1="1527.00" y1="818.75" x2="1544.3" y2="818.75" stroke="#000" stroke-width="4.0"/>
<text class="b" transform="translate(1524.30 831.25) scale(1 1.045)" font-size="32.5" text-anchor="end"><tspan letter-spacing="0.8">8×10</tspan><tspan font-size="23.5" dx="0.4" dy="-10.2">-5</tspan></text>
<line x1="1527.00" y1="717.10" x2="1544.3" y2="717.10" stroke="#000" stroke-width="4.0"/>
<text class="b" transform="translate(1524.30 729.60) scale(1 1.045)" font-size="32.5" text-anchor="end"><tspan letter-spacing="0.8">1×10</tspan><tspan font-size="23.5" dx="0.4" dy="-10.2">-4</tspan></text>
<line x1="1659.9" y1="1123.7" x2="1659.9" y2="1141.00" stroke="#000" stroke-width="4.0"/>
<text class="bx" transform="matrix(0.3062 0 0 0.2958 1584.64 1171.70)" font-size="100" font-weight="bold" stroke-width="1.99">RAW264.7</text>
<line x1="1834.7" y1="1123.7" x2="1834.7" y2="1141.00" stroke="#000" stroke-width="4.0"/>
<text class="bx" transform="matrix(0.3093 0 0 0.3001 1797.01 1171.70)" font-size="100" font-weight="bold" stroke-width="1.97">BMM</text>
<text class="bx" transform="translate(1381.90 1130.53) rotate(-90) scale(0.3279 0.3438)" font-size="100" font-weight="bold" stroke-width="1.79">Mean NAD(P)H Signal (a.u.)</text>
<text class="pl" stroke-width="1.7"><tspan x="1344.17" y="684.51" font-size="46.84" textLength="15.46" lengthAdjust="spacingAndGlyphs">(</tspan><tspan x="1358.42" y="684.55" font-size="43.59" textLength="13.52" lengthAdjust="spacingAndGlyphs">f</tspan><tspan x="1372.72" y="684.51" font-size="46.84" textLength="15.46" lengthAdjust="spacingAndGlyphs">)</tspan></text>
<path d="M1656.6 720.0H1834.6M1656.6 710.1v19.8M1834.6 710.1v19.8" stroke="#262626" stroke-width="2.1" fill="none"/>
<text class="sg" x="1749.30" y="711.70" font-size="31" text-anchor="middle">ns</text>
</svg>
</body>
</html>
